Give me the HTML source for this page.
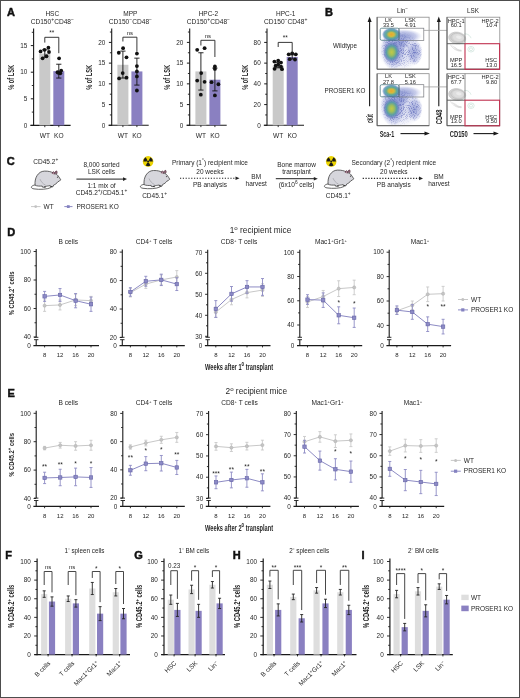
<!DOCTYPE html><html><head><meta charset="utf-8"><style>html,body{margin:0;padding:0;background:#fff;}svg{display:block;filter:blur(0.35px);}</style></head><body>
<svg width="520" height="698" viewBox="0 0 520 698" font-family='"Liberation Sans", sans-serif'>
<defs><filter id="blur1" x="-50%" y="-50%" width="200%" height="200%"><feGaussianBlur stdDeviation="1.6"/></filter><filter id="blur2" x="-50%" y="-50%" width="200%" height="200%"><feGaussianBlur stdDeviation="3"/></filter><filter id="speck" x="0" y="0" width="100%" height="100%" color-interpolation-filters="sRGB"><feTurbulence type="fractalNoise" baseFrequency="1.1" numOctaves="1" seed="7" result="n"/><feColorMatrix in="n" type="matrix" values="0 0 0 0 0.32  0 0 0 0 0.36  0 0 0 0 0.70  0 0 0 7 -3.5" result="d"/><feComposite in="d" in2="SourceGraphic" operator="in"/></filter><radialGradient id="hotU"><stop offset="0" stop-color="#eaa530"/><stop offset="0.28" stop-color="#d6bb3c"/><stop offset="0.55" stop-color="#62aa94"/><stop offset="0.8" stop-color="#4f8fb4" stop-opacity="0.8"/><stop offset="1" stop-color="#6b78c4" stop-opacity="0"/></radialGradient><radialGradient id="hotL"><stop offset="0" stop-color="#c2c84a"/><stop offset="0.3" stop-color="#9ebf5c"/><stop offset="0.6" stop-color="#5a9ea6"/><stop offset="0.85" stop-color="#6a80c0" stop-opacity="0.6"/><stop offset="1" stop-color="#7080c8" stop-opacity="0"/></radialGradient><radialGradient id="cloud"><stop offset="0" stop-color="#7482c8" stop-opacity="0.85"/><stop offset="0.65" stop-color="#8c96d4" stop-opacity="0.55"/><stop offset="1" stop-color="#aab2e2" stop-opacity="0"/></radialGradient></defs>
<rect x="0" y="0" width="520" height="698" fill="#fff"/>
<text transform="translate(6.9,16.45) scale(0.95,1)" x="0" y="0" font-size="11.6" font-weight="bold" fill="#111" stroke="#111" stroke-width="0.5">A</text>
<line x1="33.6" y1="28.6" x2="33.6" y2="125.9" stroke="#1a1a1a" stroke-width="1.1" />
<line x1="30.4" y1="125.4" x2="70.6" y2="125.4" stroke="#1a1a1a" stroke-width="1.1" />
<line x1="30.8" y1="125.4" x2="33.6" y2="125.4" stroke="#1a1a1a" stroke-width="1" />
<text x="27.3" y="127.61" font-size="6.4" text-anchor="end" font-weight="normal" fill="#262626" >0</text>
<line x1="30.8" y1="98.8" x2="33.6" y2="98.8" stroke="#1a1a1a" stroke-width="1" />
<text x="27.3" y="101.01" font-size="6.4" text-anchor="end" font-weight="normal" fill="#262626" >5</text>
<line x1="30.8" y1="72.2" x2="33.6" y2="72.2" stroke="#1a1a1a" stroke-width="1" />
<text x="27.3" y="74.41" font-size="6.4" text-anchor="end" font-weight="normal" fill="#262626" >10</text>
<line x1="30.8" y1="45.6" x2="33.6" y2="45.6" stroke="#1a1a1a" stroke-width="1" />
<text x="27.3" y="47.81" font-size="6.4" text-anchor="end" font-weight="normal" fill="#262626" >15</text>
<line x1="31.8" y1="112.1" x2="33.6" y2="112.1" stroke="#1a1a1a" stroke-width="0.9" />
<line x1="31.8" y1="85.5" x2="33.6" y2="85.5" stroke="#1a1a1a" stroke-width="0.9" />
<line x1="31.8" y1="58.9" x2="33.6" y2="58.9" stroke="#1a1a1a" stroke-width="0.9" />
<line x1="31.8" y1="32.3" x2="33.6" y2="32.3" stroke="#1a1a1a" stroke-width="0.9" />
<rect x="39.3" y="53.58" width="11" height="71.82" fill="#c9c9c9" stroke="none" stroke-width="1" />
<rect x="53.3" y="71.14" width="11" height="54.26" fill="#8a80c1" stroke="none" stroke-width="1" />
<line x1="44.8" y1="125.4" x2="44.8" y2="127.2" stroke="#1a1a1a" stroke-width="0.9" />
<line x1="58.8" y1="125.4" x2="58.8" y2="127.2" stroke="#1a1a1a" stroke-width="0.9" />
<line x1="44.8" y1="49.86" x2="44.8" y2="57.3" stroke="#111" stroke-width="0.9" />
<line x1="42.2" y1="49.86" x2="47.4" y2="49.86" stroke="#111" stroke-width="0.9" />
<line x1="42.2" y1="57.3" x2="47.4" y2="57.3" stroke="#111" stroke-width="0.9" />
<line x1="58.8" y1="64.22" x2="58.8" y2="78.05" stroke="#111" stroke-width="0.9" />
<line x1="56.2" y1="64.22" x2="61.4" y2="64.22" stroke="#111" stroke-width="0.9" />
<line x1="56.2" y1="78.05" x2="61.4" y2="78.05" stroke="#111" stroke-width="0.9" />
<circle cx="40.6" cy="51.45" r="1.9" fill="#111" stroke="none" stroke-width="1"/>
<circle cx="48.4" cy="47.73" r="1.9" fill="#111" stroke="none" stroke-width="1"/>
<circle cx="49" cy="51.98" r="1.9" fill="#111" stroke="none" stroke-width="1"/>
<circle cx="46.5" cy="56.24" r="1.9" fill="#111" stroke="none" stroke-width="1"/>
<circle cx="42.6" cy="58.37" r="1.9" fill="#111" stroke="none" stroke-width="1"/>
<circle cx="44.5" cy="49.86" r="1.9" fill="#111" stroke="none" stroke-width="1"/>
<circle cx="57.5" cy="72.2" r="1.9" fill="#111" stroke="none" stroke-width="1"/>
<circle cx="59.1" cy="58.37" r="1.9" fill="#111" stroke="none" stroke-width="1"/>
<circle cx="60.3" cy="73.26" r="1.9" fill="#111" stroke="none" stroke-width="1"/>
<circle cx="58.3" cy="72.73" r="1.9" fill="#111" stroke="none" stroke-width="1"/>
<circle cx="61.2" cy="70.6" r="1.9" fill="#111" stroke="none" stroke-width="1"/>
<polyline points="44.8,42.6 44.8,37.3 58.8,37.3 58.8,53.2" fill="none" stroke="#222" stroke-width="0.9"/>
<text x="51.8" y="35.24" font-size="6.5" text-anchor="middle" font-weight="normal" fill="#262626" >**</text>
<text x="44.8" y="138.08" font-size="6.6" text-anchor="middle" font-weight="normal" fill="#262626" >WT</text>
<text x="58.8" y="138.08" font-size="6.6" text-anchor="middle" font-weight="normal" fill="#262626" >KO</text>
<text x="52.3" y="16.24" font-size="6.5" text-anchor="middle" font-weight="normal" fill="#262626" >HSC</text>
<text x="52.3" y="24.2" font-size="6.6" text-anchor="middle" fill="#262626">CD150<tspan baseline-shift="2.72" font-size="5.03">+</tspan>CD48<tspan baseline-shift="2.72" font-size="5.03">−</tspan></text>
<text transform="translate(11.2,77.35) rotate(-90)" x="0" y="2.83" font-size="8.2" text-anchor="middle" font-weight="bold" fill="#262626" textLength="25" lengthAdjust="spacingAndGlyphs">% of LSK</text>
<line x1="111.7" y1="28.6" x2="111.7" y2="125.8" stroke="#1a1a1a" stroke-width="1.1" />
<line x1="108.5" y1="125.3" x2="148.7" y2="125.3" stroke="#1a1a1a" stroke-width="1.1" />
<line x1="108.9" y1="125.3" x2="111.7" y2="125.3" stroke="#1a1a1a" stroke-width="1" />
<text x="105.4" y="127.51" font-size="6.4" text-anchor="end" font-weight="normal" fill="#262626" >0</text>
<line x1="108.9" y1="104.58" x2="111.7" y2="104.58" stroke="#1a1a1a" stroke-width="1" />
<text x="105.4" y="106.78" font-size="6.4" text-anchor="end" font-weight="normal" fill="#262626" >5</text>
<line x1="108.9" y1="83.85" x2="111.7" y2="83.85" stroke="#1a1a1a" stroke-width="1" />
<text x="105.4" y="86.06" font-size="6.4" text-anchor="end" font-weight="normal" fill="#262626" >10</text>
<line x1="108.9" y1="63.12" x2="111.7" y2="63.12" stroke="#1a1a1a" stroke-width="1" />
<text x="105.4" y="65.33" font-size="6.4" text-anchor="end" font-weight="normal" fill="#262626" >15</text>
<line x1="108.9" y1="42.4" x2="111.7" y2="42.4" stroke="#1a1a1a" stroke-width="1" />
<text x="105.4" y="44.61" font-size="6.4" text-anchor="end" font-weight="normal" fill="#262626" >20</text>
<line x1="109.9" y1="114.94" x2="111.7" y2="114.94" stroke="#1a1a1a" stroke-width="0.9" />
<line x1="109.9" y1="94.21" x2="111.7" y2="94.21" stroke="#1a1a1a" stroke-width="0.9" />
<line x1="109.9" y1="73.49" x2="111.7" y2="73.49" stroke="#1a1a1a" stroke-width="0.9" />
<line x1="109.9" y1="52.76" x2="111.7" y2="52.76" stroke="#1a1a1a" stroke-width="0.9" />
<line x1="109.9" y1="32.04" x2="111.7" y2="32.04" stroke="#1a1a1a" stroke-width="0.9" />
<rect x="117.4" y="64.78" width="11" height="60.52" fill="#c9c9c9" stroke="none" stroke-width="1" />
<rect x="131.4" y="71.42" width="11" height="53.88" fill="#8a80c1" stroke="none" stroke-width="1" />
<line x1="122.9" y1="125.3" x2="122.9" y2="127.1" stroke="#1a1a1a" stroke-width="0.9" />
<line x1="136.9" y1="125.3" x2="136.9" y2="127.1" stroke="#1a1a1a" stroke-width="0.9" />
<line x1="122.9" y1="51.1" x2="122.9" y2="78.05" stroke="#111" stroke-width="0.9" />
<line x1="120.3" y1="51.1" x2="125.5" y2="51.1" stroke="#111" stroke-width="0.9" />
<line x1="120.3" y1="78.05" x2="125.5" y2="78.05" stroke="#111" stroke-width="0.9" />
<line x1="136.9" y1="58.15" x2="136.9" y2="85.09" stroke="#111" stroke-width="0.9" />
<line x1="134.3" y1="58.15" x2="139.5" y2="58.15" stroke="#111" stroke-width="0.9" />
<line x1="134.3" y1="85.09" x2="139.5" y2="85.09" stroke="#111" stroke-width="0.9" />
<circle cx="118.8" cy="52.76" r="1.9" fill="#111" stroke="none" stroke-width="1"/>
<circle cx="123.1" cy="48.2" r="1.9" fill="#111" stroke="none" stroke-width="1"/>
<circle cx="126.5" cy="57.32" r="1.9" fill="#111" stroke="none" stroke-width="1"/>
<circle cx="122.7" cy="73.07" r="1.9" fill="#111" stroke="none" stroke-width="1"/>
<circle cx="119.1" cy="78.46" r="1.9" fill="#111" stroke="none" stroke-width="1"/>
<circle cx="126.5" cy="77.63" r="1.9" fill="#111" stroke="none" stroke-width="1"/>
<circle cx="136.9" cy="53.59" r="1.9" fill="#111" stroke="none" stroke-width="1"/>
<circle cx="136.9" cy="66.03" r="1.9" fill="#111" stroke="none" stroke-width="1"/>
<circle cx="136.9" cy="71.42" r="1.9" fill="#111" stroke="none" stroke-width="1"/>
<circle cx="136.9" cy="76.39" r="1.9" fill="#111" stroke="none" stroke-width="1"/>
<circle cx="136.9" cy="90.48" r="1.9" fill="#111" stroke="none" stroke-width="1"/>
<polyline points="122.9,41.5 122.9,37.2 136.9,37.2 136.9,51.8" fill="none" stroke="#222" stroke-width="0.9"/>
<text x="129.9" y="34.77" font-size="6" text-anchor="middle" font-weight="normal" fill="#262626" >ns</text>
<text x="122.9" y="138.08" font-size="6.6" text-anchor="middle" font-weight="normal" fill="#262626" >WT</text>
<text x="136.9" y="138.08" font-size="6.6" text-anchor="middle" font-weight="normal" fill="#262626" >KO</text>
<text x="130.4" y="16.24" font-size="6.5" text-anchor="middle" font-weight="normal" fill="#262626" >MPP</text>
<text x="130.4" y="24.2" font-size="6.6" text-anchor="middle" fill="#262626">CD150<tspan baseline-shift="2.72" font-size="5.03">−</tspan>CD48<tspan baseline-shift="2.72" font-size="5.03">−</tspan></text>
<text transform="translate(89.5,77.35) rotate(-90)" x="0" y="2.83" font-size="8.2" text-anchor="middle" font-weight="bold" fill="#262626" textLength="25" lengthAdjust="spacingAndGlyphs">% of LSK</text>
<line x1="189.7" y1="28.6" x2="189.7" y2="125.8" stroke="#1a1a1a" stroke-width="1.1" />
<line x1="186.5" y1="125.3" x2="226.7" y2="125.3" stroke="#1a1a1a" stroke-width="1.1" />
<line x1="186.9" y1="125.3" x2="189.7" y2="125.3" stroke="#1a1a1a" stroke-width="1" />
<text x="183.4" y="127.51" font-size="6.4" text-anchor="end" font-weight="normal" fill="#262626" >0</text>
<line x1="186.9" y1="104.58" x2="189.7" y2="104.58" stroke="#1a1a1a" stroke-width="1" />
<text x="183.4" y="106.78" font-size="6.4" text-anchor="end" font-weight="normal" fill="#262626" >5</text>
<line x1="186.9" y1="83.85" x2="189.7" y2="83.85" stroke="#1a1a1a" stroke-width="1" />
<text x="183.4" y="86.06" font-size="6.4" text-anchor="end" font-weight="normal" fill="#262626" >10</text>
<line x1="186.9" y1="63.12" x2="189.7" y2="63.12" stroke="#1a1a1a" stroke-width="1" />
<text x="183.4" y="65.33" font-size="6.4" text-anchor="end" font-weight="normal" fill="#262626" >15</text>
<line x1="186.9" y1="42.4" x2="189.7" y2="42.4" stroke="#1a1a1a" stroke-width="1" />
<text x="183.4" y="44.61" font-size="6.4" text-anchor="end" font-weight="normal" fill="#262626" >20</text>
<line x1="187.9" y1="114.94" x2="189.7" y2="114.94" stroke="#1a1a1a" stroke-width="0.9" />
<line x1="187.9" y1="94.21" x2="189.7" y2="94.21" stroke="#1a1a1a" stroke-width="0.9" />
<line x1="187.9" y1="73.49" x2="189.7" y2="73.49" stroke="#1a1a1a" stroke-width="0.9" />
<line x1="187.9" y1="52.76" x2="189.7" y2="52.76" stroke="#1a1a1a" stroke-width="0.9" />
<line x1="187.9" y1="32.04" x2="189.7" y2="32.04" stroke="#1a1a1a" stroke-width="0.9" />
<rect x="195.4" y="71.42" width="11" height="53.88" fill="#c9c9c9" stroke="none" stroke-width="1" />
<rect x="209.4" y="79.7" width="11" height="45.59" fill="#8a80c1" stroke="none" stroke-width="1" />
<line x1="200.9" y1="125.3" x2="200.9" y2="127.1" stroke="#1a1a1a" stroke-width="0.9" />
<line x1="214.9" y1="125.3" x2="214.9" y2="127.1" stroke="#1a1a1a" stroke-width="0.9" />
<line x1="200.9" y1="52.76" x2="200.9" y2="90.07" stroke="#111" stroke-width="0.9" />
<line x1="198.3" y1="52.76" x2="203.5" y2="52.76" stroke="#111" stroke-width="0.9" />
<line x1="198.3" y1="90.07" x2="203.5" y2="90.07" stroke="#111" stroke-width="0.9" />
<line x1="214.9" y1="68.1" x2="214.9" y2="90.9" stroke="#111" stroke-width="0.9" />
<line x1="212.3" y1="68.1" x2="217.5" y2="68.1" stroke="#111" stroke-width="0.9" />
<line x1="212.3" y1="90.9" x2="217.5" y2="90.9" stroke="#111" stroke-width="0.9" />
<circle cx="197.2" cy="49.86" r="1.9" fill="#111" stroke="none" stroke-width="1"/>
<circle cx="204.6" cy="48.2" r="1.9" fill="#111" stroke="none" stroke-width="1"/>
<circle cx="201.2" cy="73.07" r="1.9" fill="#111" stroke="none" stroke-width="1"/>
<circle cx="197.2" cy="80.53" r="1.9" fill="#111" stroke="none" stroke-width="1"/>
<circle cx="204.6" cy="81.78" r="1.9" fill="#111" stroke="none" stroke-width="1"/>
<circle cx="200.8" cy="94.63" r="1.9" fill="#111" stroke="none" stroke-width="1"/>
<circle cx="214.9" cy="66.44" r="1.9" fill="#111" stroke="none" stroke-width="1"/>
<circle cx="214.9" cy="68.93" r="1.9" fill="#111" stroke="none" stroke-width="1"/>
<circle cx="211.5" cy="82.19" r="1.9" fill="#111" stroke="none" stroke-width="1"/>
<circle cx="218.4" cy="84.26" r="1.9" fill="#111" stroke="none" stroke-width="1"/>
<circle cx="214.9" cy="95.46" r="1.9" fill="#111" stroke="none" stroke-width="1"/>
<polyline points="200.9,45.5 200.9,40.3 214.9,40.3 214.9,57" fill="none" stroke="#222" stroke-width="0.9"/>
<text x="207.9" y="37.87" font-size="6" text-anchor="middle" font-weight="normal" fill="#262626" >ns</text>
<text x="200.9" y="138.08" font-size="6.6" text-anchor="middle" font-weight="normal" fill="#262626" >WT</text>
<text x="214.9" y="138.08" font-size="6.6" text-anchor="middle" font-weight="normal" fill="#262626" >KO</text>
<text x="208.4" y="16.24" font-size="6.5" text-anchor="middle" font-weight="normal" fill="#262626" >HPC-2</text>
<text x="208.4" y="24.2" font-size="6.6" text-anchor="middle" fill="#262626">CD150<tspan baseline-shift="2.72" font-size="5.03">+</tspan>CD48<tspan baseline-shift="2.72" font-size="5.03">−</tspan></text>
<text transform="translate(167.5,77.35) rotate(-90)" x="0" y="2.83" font-size="8.2" text-anchor="middle" font-weight="bold" fill="#262626" textLength="25" lengthAdjust="spacingAndGlyphs">% of LSK</text>
<line x1="267" y1="28.6" x2="267" y2="125.8" stroke="#1a1a1a" stroke-width="1.1" />
<line x1="263.8" y1="125.3" x2="304" y2="125.3" stroke="#1a1a1a" stroke-width="1.1" />
<line x1="264.2" y1="125.3" x2="267" y2="125.3" stroke="#1a1a1a" stroke-width="1" />
<text x="260.7" y="127.51" font-size="6.4" text-anchor="end" font-weight="normal" fill="#262626" >0</text>
<line x1="264.2" y1="104.58" x2="267" y2="104.58" stroke="#1a1a1a" stroke-width="1" />
<text x="260.7" y="106.79" font-size="6.4" text-anchor="end" font-weight="normal" fill="#262626" >20</text>
<line x1="264.2" y1="83.86" x2="267" y2="83.86" stroke="#1a1a1a" stroke-width="1" />
<text x="260.7" y="86.07" font-size="6.4" text-anchor="end" font-weight="normal" fill="#262626" >40</text>
<line x1="264.2" y1="63.14" x2="267" y2="63.14" stroke="#1a1a1a" stroke-width="1" />
<text x="260.7" y="65.35" font-size="6.4" text-anchor="end" font-weight="normal" fill="#262626" >60</text>
<line x1="264.2" y1="42.42" x2="267" y2="42.42" stroke="#1a1a1a" stroke-width="1" />
<text x="260.7" y="44.63" font-size="6.4" text-anchor="end" font-weight="normal" fill="#262626" >80</text>
<line x1="265.2" y1="114.94" x2="267" y2="114.94" stroke="#1a1a1a" stroke-width="0.9" />
<line x1="265.2" y1="94.22" x2="267" y2="94.22" stroke="#1a1a1a" stroke-width="0.9" />
<line x1="265.2" y1="73.5" x2="267" y2="73.5" stroke="#1a1a1a" stroke-width="0.9" />
<line x1="265.2" y1="52.78" x2="267" y2="52.78" stroke="#1a1a1a" stroke-width="0.9" />
<line x1="265.2" y1="32.06" x2="267" y2="32.06" stroke="#1a1a1a" stroke-width="0.9" />
<rect x="272.7" y="65.73" width="11" height="59.57" fill="#c9c9c9" stroke="none" stroke-width="1" />
<rect x="286.7" y="56.92" width="11" height="68.38" fill="#8a80c1" stroke="none" stroke-width="1" />
<line x1="278.2" y1="125.3" x2="278.2" y2="127.1" stroke="#1a1a1a" stroke-width="0.9" />
<line x1="292.2" y1="125.3" x2="292.2" y2="127.1" stroke="#1a1a1a" stroke-width="0.9" />
<line x1="278.2" y1="62.62" x2="278.2" y2="67.8" stroke="#111" stroke-width="0.9" />
<line x1="275.6" y1="62.62" x2="280.8" y2="62.62" stroke="#111" stroke-width="0.9" />
<line x1="275.6" y1="67.8" x2="280.8" y2="67.8" stroke="#111" stroke-width="0.9" />
<line x1="292.2" y1="54.85" x2="292.2" y2="59" stroke="#111" stroke-width="0.9" />
<line x1="289.6" y1="54.85" x2="294.8" y2="54.85" stroke="#111" stroke-width="0.9" />
<line x1="289.6" y1="59" x2="294.8" y2="59" stroke="#111" stroke-width="0.9" />
<circle cx="274.4" cy="61.59" r="1.9" fill="#111" stroke="none" stroke-width="1"/>
<circle cx="278.2" cy="60.55" r="1.9" fill="#111" stroke="none" stroke-width="1"/>
<circle cx="281" cy="62.62" r="1.9" fill="#111" stroke="none" stroke-width="1"/>
<circle cx="275.7" cy="65.73" r="1.9" fill="#111" stroke="none" stroke-width="1"/>
<circle cx="281" cy="66.77" r="1.9" fill="#111" stroke="none" stroke-width="1"/>
<circle cx="274.6" cy="68.84" r="1.9" fill="#111" stroke="none" stroke-width="1"/>
<circle cx="282" cy="69.15" r="1.9" fill="#111" stroke="none" stroke-width="1"/>
<circle cx="278.2" cy="64.69" r="1.9" fill="#111" stroke="none" stroke-width="1"/>
<circle cx="288.7" cy="54.33" r="1.9" fill="#111" stroke="none" stroke-width="1"/>
<circle cx="292.2" cy="53.3" r="1.9" fill="#111" stroke="none" stroke-width="1"/>
<circle cx="295.8" cy="54.33" r="1.9" fill="#111" stroke="none" stroke-width="1"/>
<circle cx="289.7" cy="59.2" r="1.9" fill="#111" stroke="none" stroke-width="1"/>
<circle cx="295" cy="59.51" r="1.9" fill="#111" stroke="none" stroke-width="1"/>
<polyline points="278.2,47 278.2,42.4 292.2,42.4 292.2,53.5" fill="none" stroke="#222" stroke-width="0.9"/>
<text x="285.2" y="40.34" font-size="6.5" text-anchor="middle" font-weight="normal" fill="#262626" >**</text>
<text x="278.2" y="138.08" font-size="6.6" text-anchor="middle" font-weight="normal" fill="#262626" >WT</text>
<text x="292.2" y="138.08" font-size="6.6" text-anchor="middle" font-weight="normal" fill="#262626" >KO</text>
<text x="285.7" y="16.24" font-size="6.5" text-anchor="middle" font-weight="normal" fill="#262626" >HPC-1</text>
<text x="285.7" y="24.2" font-size="6.6" text-anchor="middle" fill="#262626">CD150<tspan baseline-shift="2.72" font-size="5.03">−</tspan>CD48<tspan baseline-shift="2.72" font-size="5.03">+</tspan></text>
<text transform="translate(245.2,77.35) rotate(-90)" x="0" y="2.83" font-size="8.2" text-anchor="middle" font-weight="bold" fill="#262626" textLength="25" lengthAdjust="spacingAndGlyphs">% of LSK</text>
<text transform="translate(324.9,16.35) scale(0.95,1)" x="0" y="0" font-size="11.6" font-weight="bold" fill="#111" stroke="#111" stroke-width="0.5">B</text>
<text x="402.5" y="12.67" font-size="6.3" text-anchor="middle" font-weight="normal" fill="#262626" >Lin<tspan baseline-shift="2.52" font-size="4.66">−</tspan></text>
<text x="473" y="12.67" font-size="6.3" text-anchor="middle" font-weight="normal" fill="#262626" >LSK</text>
<text x="345" y="47.77" font-size="6.3" text-anchor="middle" font-weight="normal" fill="#262626" >Wildtype</text>
<text x="345" y="93.47" font-size="6.3" text-anchor="middle" font-weight="normal" fill="#262626" >PROSER1 KO</text>
<line x1="369.6" y1="21" x2="369.6" y2="106.3" stroke="#1a1a1a" stroke-width="1.1" />
<path d="M367.6,22 L369.6,16.6 L371.6,22 Z" fill="#1a1a1a"/>
<text transform="translate(369.7,118.6) rotate(-90)" x="0" y="2.97" font-size="8.6" text-anchor="middle" font-weight="bold" fill="#262626" textLength="8.8" lengthAdjust="spacingAndGlyphs">cKit</text>
<line x1="438.8" y1="21" x2="438.8" y2="106.3" stroke="#1a1a1a" stroke-width="1.1" />
<path d="M436.8,22 L438.8,16.6 L440.8,22 Z" fill="#1a1a1a"/>
<text transform="translate(438.9,116.9) rotate(-90)" x="0" y="2.97" font-size="8.6" text-anchor="middle" font-weight="bold" fill="#262626" textLength="14.6" lengthAdjust="spacingAndGlyphs">CD48</text>
<text x="379.7" y="137.2" font-size="9" font-weight="bold" fill="#262626" textLength="14.5" lengthAdjust="spacingAndGlyphs">Sca-1</text>
<line x1="400.5" y1="133.6" x2="425.5" y2="133.6" stroke="#1a1a1a" stroke-width="1.1" />
<path d="M424.5,131.6 L429.9,133.6 L424.5,135.6 Z" fill="#1a1a1a"/>
<text x="449.8" y="137.2" font-size="9" font-weight="bold" fill="#262626" textLength="18" lengthAdjust="spacingAndGlyphs">CD150</text>
<line x1="473.5" y1="133.6" x2="494.5" y2="133.6" stroke="#1a1a1a" stroke-width="1.1" />
<path d="M493.5,131.6 L498.9,133.6 L493.5,135.6 Z" fill="#1a1a1a"/>
<defs><clipPath id="clip0"><rect x="0" y="0" width="52" height="52"/></clipPath></defs>
<g transform="translate(377.1,17.2)"><g clip-path="url(#clip0)">
<ellipse cx="23" cy="33" rx="23" ry="21" fill="url(#cloud)" opacity="0.42"/>
<ellipse cx="16" cy="32" rx="12.5" ry="21" fill="url(#cloud)" opacity="0.95"/>
<ellipse cx="27" cy="19" rx="18" ry="7" fill="url(#cloud)" opacity="0.85"/>
<ellipse cx="24" cy="26" rx="9" ry="6" fill="url(#cloud)" opacity="0.7"/>
<ellipse cx="37.5" cy="35.5" rx="8" ry="12.5" fill="url(#cloud)" opacity="0.75"/>
<g filter="url(#speck)" opacity="0.6">
<ellipse cx="23" cy="33" rx="20" ry="19" fill="url(#cloud)"/>
<ellipse cx="16" cy="32" rx="12" ry="20" fill="url(#cloud)"/>
<ellipse cx="37.5" cy="35.5" rx="8" ry="12.5" fill="url(#cloud)"/>
</g>
<ellipse cx="14.5" cy="35" rx="8.5" ry="10.5" fill="url(#hotL)"/>
<ellipse cx="14.3" cy="17.3" rx="9.5" ry="6.8" fill="url(#hotU)"/>
</g></g>
<rect x="377.1" y="17.2" width="52" height="52" fill="none" stroke="#8a8a8a" stroke-width="0.8" />
<line x1="377.1" y1="69.2" x2="429.1" y2="69.2" stroke="#555" stroke-width="0.9" />
<line x1="377.1" y1="17.2" x2="377.1" y2="69.2" stroke="#555" stroke-width="0.9" />
<rect x="399" y="28.2" width="24.8" height="12.3" fill="none" stroke="#77797f" stroke-width="0.7" />
<rect x="380.2" y="28.2" width="18.8" height="12.1" fill="none" stroke="#3f6f78" stroke-width="0.75" rx="1.5"/>
<text x="388.5" y="21.77" font-size="5.7" text-anchor="middle" font-weight="normal" fill="#262626" >LK</text>
<text x="388.5" y="27.07" font-size="5.7" text-anchor="middle" font-weight="normal" fill="#262626" >33.5</text>
<text x="410.4" y="21.77" font-size="5.7" text-anchor="middle" font-weight="normal" fill="#262626" >LSK</text>
<text x="410.4" y="27.07" font-size="5.7" text-anchor="middle" font-weight="normal" fill="#262626" >4.91</text>
<line x1="423.8" y1="30.4" x2="447" y2="30.4" stroke="#a0a0a0" stroke-width="0.8" />
<g transform="rotate(8 457.2 38)">
<ellipse cx="457.2" cy="38" rx="8.6" ry="5.9" fill="#d4d4d4"/>
<ellipse cx="458.2" cy="37.4" rx="5.5" ry="3.4" fill="#dedede"/>
<ellipse cx="458.7" cy="37" rx="2.8" ry="1.6" fill="#ebebeb"/>
<g fill="none" stroke="#b4b4b4" stroke-width="0.45">
<ellipse cx="457.2" cy="38" rx="8.6" ry="5.9"/>
<ellipse cx="457.7" cy="37.7" rx="7" ry="4.6"/>
</g></g>
<g fill="none" stroke="#c2c2c2" stroke-width="0.5">
<path d="M450.5,44.7 c2,4 6,6.5 11,6.5" />
<path d="M452.5,45.7 c2,3 5,5 9,5" />
<path d="M454.5,46.7 c2,2.5 4,3.5 7,3.5" />
</g>
<g fill="none" stroke="#b8d6ca" stroke-width="0.5">
<path d="M464,34.2 c3,-1 6,1 7,4" />
<ellipse cx="471" cy="49.2" rx="3.2" ry="2.8"/>
<ellipse cx="471" cy="49.2" rx="1.6" ry="1.4"/>
</g>
<rect x="447" y="17.2" width="52.8" height="52" fill="none" stroke="#8a8a8a" stroke-width="0.8" />
<line x1="447" y1="69.2" x2="499.8" y2="69.2" stroke="#555" stroke-width="0.9" />
<line x1="447" y1="17.2" x2="447" y2="69.2" stroke="#555" stroke-width="0.9" />
<line x1="465" y1="17.2" x2="465" y2="43.7" stroke="#777" stroke-width="0.8" />
<line x1="447" y1="43.7" x2="465" y2="43.7" stroke="#555" stroke-width="0.9" />
<rect x="465" y="43.7" width="34.6" height="25.6" fill="none" stroke="#c0304f" stroke-width="1.1" />
<text x="456.2" y="22.57" font-size="5.7" text-anchor="middle" font-weight="normal" fill="#262626" >HPC-1</text>
<text x="456.2" y="27.47" font-size="5.7" text-anchor="middle" font-weight="normal" fill="#262626" >60.1</text>
<text x="498.6" y="22.57" font-size="5.7" text-anchor="end" font-weight="normal" fill="#262626" >HPC-2</text>
<text x="497.2" y="27.47" font-size="5.7" text-anchor="end" font-weight="normal" fill="#262626" >10.4</text>
<text x="456.2" y="62.07" font-size="5.7" text-anchor="middle" font-weight="normal" fill="#262626" >MPP</text>
<text x="456.2" y="66.97" font-size="5.7" text-anchor="middle" font-weight="normal" fill="#262626" >16.5</text>
<text x="497.2" y="62.07" font-size="5.7" text-anchor="end" font-weight="normal" fill="#262626" >HSC</text>
<text x="497.2" y="66.97" font-size="5.7" text-anchor="end" font-weight="normal" fill="#262626" >13.0</text>
<defs><clipPath id="clip1"><rect x="0" y="0" width="52" height="52"/></clipPath></defs>
<g transform="translate(377.1,73.7)"><g clip-path="url(#clip1)">
<ellipse cx="23" cy="33" rx="23" ry="21" fill="url(#cloud)" opacity="0.42"/>
<ellipse cx="16" cy="32" rx="12.5" ry="21" fill="url(#cloud)" opacity="0.95"/>
<ellipse cx="27" cy="19" rx="18" ry="7" fill="url(#cloud)" opacity="0.85"/>
<ellipse cx="24" cy="26" rx="9" ry="6" fill="url(#cloud)" opacity="0.7"/>
<ellipse cx="37.5" cy="35.5" rx="8" ry="12.5" fill="url(#cloud)" opacity="0.75"/>
<g filter="url(#speck)" opacity="0.6">
<ellipse cx="23" cy="33" rx="20" ry="19" fill="url(#cloud)"/>
<ellipse cx="16" cy="32" rx="12" ry="20" fill="url(#cloud)"/>
<ellipse cx="37.5" cy="35.5" rx="8" ry="12.5" fill="url(#cloud)"/>
</g>
<ellipse cx="14.5" cy="35" rx="8.5" ry="10.5" fill="url(#hotL)"/>
<ellipse cx="14.3" cy="17.3" rx="9.5" ry="6.8" fill="url(#hotU)"/>
</g></g>
<rect x="377.1" y="73.7" width="52" height="52" fill="none" stroke="#8a8a8a" stroke-width="0.8" />
<line x1="377.1" y1="125.7" x2="429.1" y2="125.7" stroke="#555" stroke-width="0.9" />
<line x1="377.1" y1="73.7" x2="377.1" y2="125.7" stroke="#555" stroke-width="0.9" />
<rect x="399" y="84.7" width="24.8" height="12.3" fill="none" stroke="#77797f" stroke-width="0.7" />
<rect x="380.2" y="84.7" width="18.8" height="12.1" fill="none" stroke="#3f6f78" stroke-width="0.75" rx="1.5"/>
<text x="388.5" y="78.27" font-size="5.7" text-anchor="middle" font-weight="normal" fill="#262626" >LK</text>
<text x="388.5" y="83.57" font-size="5.7" text-anchor="middle" font-weight="normal" fill="#262626" >27.8</text>
<text x="410.4" y="78.27" font-size="5.7" text-anchor="middle" font-weight="normal" fill="#262626" >LSK</text>
<text x="410.4" y="83.57" font-size="5.7" text-anchor="middle" font-weight="normal" fill="#262626" >5.16</text>
<line x1="423.8" y1="86.9" x2="447" y2="86.9" stroke="#a0a0a0" stroke-width="0.8" />
<g transform="rotate(8 457.2 94.5)">
<ellipse cx="457.2" cy="94.5" rx="8.6" ry="5.9" fill="#d4d4d4"/>
<ellipse cx="458.2" cy="93.9" rx="5.5" ry="3.4" fill="#dedede"/>
<ellipse cx="458.7" cy="93.5" rx="2.8" ry="1.6" fill="#ebebeb"/>
<g fill="none" stroke="#b4b4b4" stroke-width="0.45">
<ellipse cx="457.2" cy="94.5" rx="8.6" ry="5.9"/>
<ellipse cx="457.7" cy="94.2" rx="7" ry="4.6"/>
</g></g>
<g fill="none" stroke="#c2c2c2" stroke-width="0.5">
<path d="M450.5,101.2 c2,4 6,6.5 11,6.5" />
<path d="M452.5,102.2 c2,3 5,5 9,5" />
<path d="M454.5,103.2 c2,2.5 4,3.5 7,3.5" />
</g>
<g fill="none" stroke="#b8d6ca" stroke-width="0.5">
<path d="M464,90.7 c3,-1 6,1 7,4" />
<ellipse cx="471" cy="105.7" rx="3.2" ry="2.8"/>
<ellipse cx="471" cy="105.7" rx="1.6" ry="1.4"/>
</g>
<rect x="447" y="73.7" width="52.8" height="52" fill="none" stroke="#8a8a8a" stroke-width="0.8" />
<line x1="447" y1="125.7" x2="499.8" y2="125.7" stroke="#555" stroke-width="0.9" />
<line x1="447" y1="73.7" x2="447" y2="125.7" stroke="#555" stroke-width="0.9" />
<line x1="465" y1="73.7" x2="465" y2="100.2" stroke="#777" stroke-width="0.8" />
<line x1="447" y1="100.2" x2="465" y2="100.2" stroke="#555" stroke-width="0.9" />
<rect x="465" y="100.2" width="34.6" height="25.6" fill="none" stroke="#c0304f" stroke-width="1.1" />
<text x="456.2" y="79.07" font-size="5.7" text-anchor="middle" font-weight="normal" fill="#262626" >HPC-1</text>
<text x="456.2" y="83.97" font-size="5.7" text-anchor="middle" font-weight="normal" fill="#262626" >67.7</text>
<text x="498.6" y="79.07" font-size="5.7" text-anchor="end" font-weight="normal" fill="#262626" >HPC-2</text>
<text x="497.2" y="83.97" font-size="5.7" text-anchor="end" font-weight="normal" fill="#262626" >9.80</text>
<text x="456.2" y="118.57" font-size="5.7" text-anchor="middle" font-weight="normal" fill="#262626" >MPP</text>
<text x="456.2" y="123.47" font-size="5.7" text-anchor="middle" font-weight="normal" fill="#262626" >13.0</text>
<text x="497.2" y="118.57" font-size="5.7" text-anchor="end" font-weight="normal" fill="#262626" >HSC</text>
<text x="497.2" y="123.47" font-size="5.7" text-anchor="end" font-weight="normal" fill="#262626" >9.50</text>
<text transform="translate(6.8,164.55) scale(0.95,1)" x="0" y="0" font-size="11.6" font-weight="bold" fill="#111" stroke="#111" stroke-width="0.5">C</text>
<text x="45.8" y="164.04" font-size="6.5" text-anchor="middle" font-weight="normal" fill="#262626" >CD45.2<tspan baseline-shift="2.6" font-size="4.81">+</tspan></text>
<g transform="translate(30.5,169.6) scale(1)">
<path d="M5.2,15.2 C0.5,15.8 -0.8,18.6 3.5,19.3 C9,20.1 17,19.9 20.8,17.8" fill="#fff" stroke="#4a4a4a" stroke-width="0.85"/>
<path d="M24.4,3.6 C24.6,1.8 25.6,1.0 26.4,1.6 C26.8,2.4 26.6,3.6 26,4.6" fill="#9a7080" stroke="#4a2a3a" stroke-width="0.7"/>
<path d="M4.6,15.6 C3.8,8.5 7.5,1.7 14,1.5 C18,1.4 20.8,2.2 23,3.4 C25,4.2 26.8,5 27.6,6.2 C28.6,7.6 29.6,9 30.2,10.2 C29.5,11.3 28.5,11.8 27.3,12.2 C26.3,13.8 24.8,14.8 23.2,15.4 L22.4,17.2 L20.2,17 L19.8,16 C17.5,16.4 16,16.6 14.8,16.8 L14,17.7 L11.9,17.5 L11.7,16.4 C9,16.6 6.5,16.6 4.6,15.6 Z" fill="#d6d6dc" stroke="#4a4a4a" stroke-width="0.85" stroke-linejoin="round"/>
<path d="M21.8,4.2 C21.6,2.8 22.4,2.0 23.4,2.2 C24.2,2.6 24.3,3.8 23.8,4.8" fill="#b08898" stroke="#4a2a3a" stroke-width="0.7"/>
<circle cx="27.0" cy="7.6" r="0.6" fill="#444"/>
<path d="M9.5,9.5 C10.5,12 12.5,14.5 15,15.5" fill="none" stroke="#8a8a90" stroke-width="0.5"/>
<path d="M13.6,17.2 l1.6,0.4 M20,16.9 l1.8,0.3" stroke="#333" stroke-width="1.1"/>
</g>
<text x="101.5" y="166.94" font-size="6.5" text-anchor="middle" font-weight="normal" fill="#262626" >8,000 sorted</text>
<text x="101.5" y="174.34" font-size="6.5" text-anchor="middle" font-weight="normal" fill="#262626" >LSK cells</text>
<line x1="76.4" y1="179.1" x2="124" y2="179.1" stroke="#222" stroke-width="1" />
<path d="M123,177.3 L127,179.1 L123,180.9 Z" fill="#222"/>
<text x="101.5" y="188.24" font-size="6.5" text-anchor="middle" font-weight="normal" fill="#262626" >1:1 mix of</text>
<text x="101.5" y="195.14" font-size="6.5" text-anchor="middle" font-weight="normal" fill="#262626" >CD45.2<tspan baseline-shift="2.6" font-size="4.81">+</tspan>/CD45.1<tspan baseline-shift="2.6" font-size="4.81">+</tspan></text>
<circle cx="148.1" cy="161.4" r="5.3" fill="#ecd400"/>
<path d="M146.72,161.4 L143.33,161.4 A4.77,4.77 0 0 1 145.72,157.27 L147.41,160.21 A1.38,1.38 0 0 0 146.72,161.4 Z" fill="#1a1a1a"/>
<path d="M148.79,160.21 L150.48,157.27 A4.77,4.77 0 0 1 152.87,161.4 L149.48,161.4 A1.38,1.38 0 0 0 148.79,160.21 Z" fill="#1a1a1a"/>
<path d="M148.79,162.59 L150.48,165.53 A4.77,4.77 0 0 1 145.72,165.53 L147.41,162.59 A1.38,1.38 0 0 0 148.79,162.59 Z" fill="#1a1a1a"/>
<circle cx="148.1" cy="161.4" r="1.01" fill="#1a1a1a"/>
<g transform="translate(139.5,169) scale(1)">
<path d="M5.2,15.2 C0.5,15.8 -0.8,18.6 3.5,19.3 C9,20.1 17,19.9 20.8,17.8" fill="#fff" stroke="#4a4a4a" stroke-width="0.85"/>
<path d="M24.4,3.6 C24.6,1.8 25.6,1.0 26.4,1.6 C26.8,2.4 26.6,3.6 26,4.6" fill="#9a7080" stroke="#4a2a3a" stroke-width="0.7"/>
<path d="M4.6,15.6 C3.8,8.5 7.5,1.7 14,1.5 C18,1.4 20.8,2.2 23,3.4 C25,4.2 26.8,5 27.6,6.2 C28.6,7.6 29.6,9 30.2,10.2 C29.5,11.3 28.5,11.8 27.3,12.2 C26.3,13.8 24.8,14.8 23.2,15.4 L22.4,17.2 L20.2,17 L19.8,16 C17.5,16.4 16,16.6 14.8,16.8 L14,17.7 L11.9,17.5 L11.7,16.4 C9,16.6 6.5,16.6 4.6,15.6 Z" fill="#d6d6dc" stroke="#4a4a4a" stroke-width="0.85" stroke-linejoin="round"/>
<path d="M21.8,4.2 C21.6,2.8 22.4,2.0 23.4,2.2 C24.2,2.6 24.3,3.8 23.8,4.8" fill="#b08898" stroke="#4a2a3a" stroke-width="0.7"/>
<circle cx="27.0" cy="7.6" r="0.6" fill="#444"/>
<path d="M9.5,9.5 C10.5,12 12.5,14.5 15,15.5" fill="none" stroke="#8a8a90" stroke-width="0.5"/>
<path d="M13.6,17.2 l1.6,0.4 M20,16.9 l1.8,0.3" stroke="#333" stroke-width="1.1"/>
</g>
<text x="154.6" y="197.84" font-size="6.5" text-anchor="middle" font-weight="normal" fill="#262626" >CD45.1<tspan baseline-shift="2.6" font-size="4.81">+</tspan></text>
<text x="210" y="164.54" font-size="6.5" text-anchor="middle" font-weight="normal" fill="#262626" >Primary (1<tspan baseline-shift="2.6" font-size="4.81">°</tspan>) recipient mice</text>
<text x="210" y="174.44" font-size="6.5" text-anchor="middle" font-weight="normal" fill="#262626" >20 weeks</text>
<line x1="180" y1="178.2" x2="236.5" y2="178.2" stroke="#222" stroke-width="1.1" stroke-dasharray="1.2,1.6"/>
<path d="M235.5,176.4 L239.5,178.2 L235.5,180 Z" fill="#222"/>
<text x="210" y="187.24" font-size="6.5" text-anchor="middle" font-weight="normal" fill="#262626" >PB analysis</text>
<text x="256.2" y="178.64" font-size="6.5" text-anchor="middle" font-weight="normal" fill="#262626" >BM</text>
<text x="256.2" y="186.04" font-size="6.5" text-anchor="middle" font-weight="normal" fill="#262626" >harvest</text>
<text x="296.6" y="166.84" font-size="6.5" text-anchor="middle" font-weight="normal" fill="#262626" >Bone marrow</text>
<text x="296.6" y="173.74" font-size="6.5" text-anchor="middle" font-weight="normal" fill="#262626" >transplant</text>
<line x1="275.8" y1="178.7" x2="314.8" y2="178.7" stroke="#222" stroke-width="1" />
<path d="M313.8,176.9 L317.8,178.7 L313.8,180.5 Z" fill="#222"/>
<text x="296.6" y="187.24" font-size="6.5" text-anchor="middle" font-weight="normal" fill="#262626" >(6x10<tspan baseline-shift="2.6" font-size="4.81">6</tspan> cells)</text>
<circle cx="331.2" cy="161.4" r="5.3" fill="#ecd400"/>
<path d="M329.82,161.4 L326.43,161.4 A4.77,4.77 0 0 1 328.81,157.27 L330.51,160.21 A1.38,1.38 0 0 0 329.82,161.4 Z" fill="#1a1a1a"/>
<path d="M331.89,160.21 L333.58,157.27 A4.77,4.77 0 0 1 335.97,161.4 L332.58,161.4 A1.38,1.38 0 0 0 331.89,160.21 Z" fill="#1a1a1a"/>
<path d="M331.89,162.59 L333.58,165.53 A4.77,4.77 0 0 1 328.81,165.53 L330.51,162.59 A1.38,1.38 0 0 0 331.89,162.59 Z" fill="#1a1a1a"/>
<circle cx="331.2" cy="161.4" r="1.01" fill="#1a1a1a"/>
<g transform="translate(323.5,168.6) scale(1)">
<path d="M5.2,15.2 C0.5,15.8 -0.8,18.6 3.5,19.3 C9,20.1 17,19.9 20.8,17.8" fill="#fff" stroke="#4a4a4a" stroke-width="0.85"/>
<path d="M24.4,3.6 C24.6,1.8 25.6,1.0 26.4,1.6 C26.8,2.4 26.6,3.6 26,4.6" fill="#9a7080" stroke="#4a2a3a" stroke-width="0.7"/>
<path d="M4.6,15.6 C3.8,8.5 7.5,1.7 14,1.5 C18,1.4 20.8,2.2 23,3.4 C25,4.2 26.8,5 27.6,6.2 C28.6,7.6 29.6,9 30.2,10.2 C29.5,11.3 28.5,11.8 27.3,12.2 C26.3,13.8 24.8,14.8 23.2,15.4 L22.4,17.2 L20.2,17 L19.8,16 C17.5,16.4 16,16.6 14.8,16.8 L14,17.7 L11.9,17.5 L11.7,16.4 C9,16.6 6.5,16.6 4.6,15.6 Z" fill="#d6d6dc" stroke="#4a4a4a" stroke-width="0.85" stroke-linejoin="round"/>
<path d="M21.8,4.2 C21.6,2.8 22.4,2.0 23.4,2.2 C24.2,2.6 24.3,3.8 23.8,4.8" fill="#b08898" stroke="#4a2a3a" stroke-width="0.7"/>
<circle cx="27.0" cy="7.6" r="0.6" fill="#444"/>
<path d="M9.5,9.5 C10.5,12 12.5,14.5 15,15.5" fill="none" stroke="#8a8a90" stroke-width="0.5"/>
<path d="M13.6,17.2 l1.6,0.4 M20,16.9 l1.8,0.3" stroke="#333" stroke-width="1.1"/>
</g>
<text x="338.2" y="197.84" font-size="6.5" text-anchor="middle" font-weight="normal" fill="#262626" >CD45.1<tspan baseline-shift="2.6" font-size="4.81">+</tspan></text>
<text x="393.8" y="164.54" font-size="6.5" text-anchor="middle" font-weight="normal" fill="#262626" >Secondary (2<tspan baseline-shift="2.6" font-size="4.81">°</tspan>) recipient mice</text>
<text x="393.8" y="174.44" font-size="6.5" text-anchor="middle" font-weight="normal" fill="#262626" >20 weeks</text>
<line x1="362.7" y1="178.4" x2="420" y2="178.4" stroke="#222" stroke-width="1.1" stroke-dasharray="1.2,1.6"/>
<path d="M419,176.6 L423,178.4 L419,180.2 Z" fill="#222"/>
<text x="393.8" y="187.24" font-size="6.5" text-anchor="middle" font-weight="normal" fill="#262626" >PB analysis</text>
<text x="438.9" y="179.14" font-size="6.5" text-anchor="middle" font-weight="normal" fill="#262626" >BM</text>
<text x="438.9" y="186.44" font-size="6.5" text-anchor="middle" font-weight="normal" fill="#262626" >harvest</text>
<line x1="31" y1="206.6" x2="40.5" y2="206.6" stroke="#c8c8c8" stroke-width="1" />
<circle cx="35.7" cy="206.6" r="1.4" fill="#c2c2c2" stroke="none" stroke-width="1"/>
<text x="43.5" y="208.84" font-size="6.5" text-anchor="start" font-weight="normal" fill="#262626" >WT</text>
<line x1="64.3" y1="206.6" x2="72.5" y2="206.6" stroke="#8d8bc4" stroke-width="1" />
<rect x="66.9" y="205.2" width="2.8" height="2.8" fill="#8482c0" stroke="none" stroke-width="1" />
<text x="76.5" y="208.84" font-size="6.5" text-anchor="start" font-weight="normal" fill="#262626" >PROSER1 KO</text>
<text transform="translate(7.3,235.95) scale(0.95,1)" x="0" y="0" font-size="11.6" font-weight="bold" fill="#111" stroke="#111" stroke-width="0.5">D</text>
<text x="260.5" y="233.46" font-size="8.3" text-anchor="middle" font-weight="normal" fill="#262626" >1<tspan baseline-shift="3.32" font-size="6.14">o</tspan> recipient mice</text>
<line x1="36.2" y1="249" x2="36.2" y2="337.3" stroke="#1a1a1a" stroke-width="1.1" />
<line x1="36.2" y1="339.7" x2="36.2" y2="346.1" stroke="#1a1a1a" stroke-width="1.1" />
<line x1="34" y1="337.3" x2="38.4" y2="337.3" stroke="#1a1a1a" stroke-width="0.9" />
<line x1="34" y1="339.7" x2="38.4" y2="339.7" stroke="#1a1a1a" stroke-width="0.9" />
<line x1="33.4" y1="345.6" x2="99" y2="345.6" stroke="#1a1a1a" stroke-width="1.1" />
<text x="30.8" y="347.81" font-size="6.4" text-anchor="end" font-weight="normal" fill="#262626" >0</text>
<line x1="33.6" y1="337" x2="36.2" y2="337" stroke="#1a1a1a" stroke-width="0.9" />
<text x="30.8" y="339.21" font-size="6.4" text-anchor="end" font-weight="normal" fill="#262626" >40</text>
<line x1="33.6" y1="308.5" x2="36.2" y2="308.5" stroke="#1a1a1a" stroke-width="0.9" />
<text x="30.8" y="310.71" font-size="6.4" text-anchor="end" font-weight="normal" fill="#262626" >60</text>
<line x1="33.6" y1="280" x2="36.2" y2="280" stroke="#1a1a1a" stroke-width="0.9" />
<text x="30.8" y="282.21" font-size="6.4" text-anchor="end" font-weight="normal" fill="#262626" >80</text>
<line x1="33.6" y1="251.5" x2="36.2" y2="251.5" stroke="#1a1a1a" stroke-width="0.9" />
<text x="30.8" y="253.71" font-size="6.4" text-anchor="end" font-weight="normal" fill="#262626" >100</text>
<line x1="34.5" y1="322.75" x2="36.2" y2="322.75" stroke="#1a1a1a" stroke-width="0.9" />
<line x1="34.5" y1="294.25" x2="36.2" y2="294.25" stroke="#1a1a1a" stroke-width="0.9" />
<line x1="34.5" y1="265.75" x2="36.2" y2="265.75" stroke="#1a1a1a" stroke-width="0.9" />
<line x1="44.6" y1="345.6" x2="44.6" y2="347.4" stroke="#1a1a1a" stroke-width="0.9" />
<text x="44.6" y="356.97" font-size="6" text-anchor="middle" font-weight="normal" fill="#262626" >8</text>
<line x1="60" y1="345.6" x2="60" y2="347.4" stroke="#1a1a1a" stroke-width="0.9" />
<text x="60" y="356.97" font-size="6" text-anchor="middle" font-weight="normal" fill="#262626" >12</text>
<line x1="75.6" y1="345.6" x2="75.6" y2="347.4" stroke="#1a1a1a" stroke-width="0.9" />
<text x="75.6" y="356.97" font-size="6" text-anchor="middle" font-weight="normal" fill="#262626" >16</text>
<line x1="91" y1="345.6" x2="91" y2="347.4" stroke="#1a1a1a" stroke-width="0.9" />
<text x="91" y="356.97" font-size="6" text-anchor="middle" font-weight="normal" fill="#262626" >20</text>
<text x="68.3" y="244.18" font-size="6.6" text-anchor="middle" font-weight="normal" fill="#262626" >B cells</text>
<polyline points="44.6,305.65 60,304.94 75.6,299.95 91,300.66" fill="none" stroke="#c8c8c8" stroke-width="1.0"/>
<line x1="44.6" y1="299.95" x2="44.6" y2="311.35" stroke="#c8c8c8" stroke-width="0.9" />
<line x1="43.1" y1="299.95" x2="46.1" y2="299.95" stroke="#c8c8c8" stroke-width="0.9" />
<line x1="43.1" y1="311.35" x2="46.1" y2="311.35" stroke="#c8c8c8" stroke-width="0.9" />
<circle cx="44.6" cy="305.65" r="1.6" fill="#c4c4c4" stroke="#b0b0b0" stroke-width="0.5"/>
<line x1="60" y1="299.95" x2="60" y2="309.93" stroke="#c8c8c8" stroke-width="0.9" />
<line x1="58.5" y1="299.95" x2="61.5" y2="299.95" stroke="#c8c8c8" stroke-width="0.9" />
<line x1="58.5" y1="309.93" x2="61.5" y2="309.93" stroke="#c8c8c8" stroke-width="0.9" />
<circle cx="60" cy="304.94" r="1.6" fill="#c4c4c4" stroke="#b0b0b0" stroke-width="0.5"/>
<line x1="75.6" y1="294.25" x2="75.6" y2="305.65" stroke="#c8c8c8" stroke-width="0.9" />
<line x1="74.1" y1="294.25" x2="77.1" y2="294.25" stroke="#c8c8c8" stroke-width="0.9" />
<line x1="74.1" y1="305.65" x2="77.1" y2="305.65" stroke="#c8c8c8" stroke-width="0.9" />
<circle cx="75.6" cy="299.95" r="1.6" fill="#c4c4c4" stroke="#b0b0b0" stroke-width="0.5"/>
<line x1="91" y1="296.39" x2="91" y2="304.94" stroke="#c8c8c8" stroke-width="0.9" />
<line x1="89.5" y1="296.39" x2="92.5" y2="296.39" stroke="#c8c8c8" stroke-width="0.9" />
<line x1="89.5" y1="304.94" x2="92.5" y2="304.94" stroke="#c8c8c8" stroke-width="0.9" />
<circle cx="91" cy="300.66" r="1.6" fill="#c4c4c4" stroke="#b0b0b0" stroke-width="0.5"/>
<polyline points="44.6,296.39 60,294.96 75.6,300.66 91,304.23" fill="none" stroke="#8d8bc4" stroke-width="1.0"/>
<line x1="44.6" y1="291.4" x2="44.6" y2="301.38" stroke="#8d8bc4" stroke-width="0.9" />
<line x1="43.1" y1="291.4" x2="46.1" y2="291.4" stroke="#8d8bc4" stroke-width="0.9" />
<line x1="43.1" y1="301.38" x2="46.1" y2="301.38" stroke="#8d8bc4" stroke-width="0.9" />
<rect x="42.9" y="294.69" width="3.4" height="3.4" fill="#8c8ac6" stroke="#6664a6" stroke-width="0.6" />
<line x1="60" y1="288.55" x2="60" y2="301.38" stroke="#8d8bc4" stroke-width="0.9" />
<line x1="58.5" y1="288.55" x2="61.5" y2="288.55" stroke="#8d8bc4" stroke-width="0.9" />
<line x1="58.5" y1="301.38" x2="61.5" y2="301.38" stroke="#8d8bc4" stroke-width="0.9" />
<rect x="58.3" y="293.26" width="3.4" height="3.4" fill="#8c8ac6" stroke="#6664a6" stroke-width="0.6" />
<line x1="75.6" y1="293.54" x2="75.6" y2="307.79" stroke="#8d8bc4" stroke-width="0.9" />
<line x1="74.1" y1="293.54" x2="77.1" y2="293.54" stroke="#8d8bc4" stroke-width="0.9" />
<line x1="74.1" y1="307.79" x2="77.1" y2="307.79" stroke="#8d8bc4" stroke-width="0.9" />
<rect x="73.9" y="298.96" width="3.4" height="3.4" fill="#8c8ac6" stroke="#6664a6" stroke-width="0.6" />
<line x1="91" y1="297.1" x2="91" y2="311.35" stroke="#8d8bc4" stroke-width="0.9" />
<line x1="89.5" y1="297.1" x2="92.5" y2="297.1" stroke="#8d8bc4" stroke-width="0.9" />
<line x1="89.5" y1="311.35" x2="92.5" y2="311.35" stroke="#8d8bc4" stroke-width="0.9" />
<rect x="89.3" y="302.53" width="3.4" height="3.4" fill="#8c8ac6" stroke="#6664a6" stroke-width="0.6" />
<line x1="122.3" y1="249.6" x2="122.3" y2="337.3" stroke="#1a1a1a" stroke-width="1.1" />
<line x1="122.3" y1="339.7" x2="122.3" y2="346.1" stroke="#1a1a1a" stroke-width="1.1" />
<line x1="120.1" y1="337.3" x2="124.5" y2="337.3" stroke="#1a1a1a" stroke-width="0.9" />
<line x1="120.1" y1="339.7" x2="124.5" y2="339.7" stroke="#1a1a1a" stroke-width="0.9" />
<line x1="119.5" y1="345.6" x2="184.8" y2="345.6" stroke="#1a1a1a" stroke-width="1.1" />
<text x="116.9" y="347.81" font-size="6.4" text-anchor="end" font-weight="normal" fill="#262626" >0</text>
<line x1="119.7" y1="337.5" x2="122.3" y2="337.5" stroke="#1a1a1a" stroke-width="0.9" />
<text x="116.9" y="339.71" font-size="6.4" text-anchor="end" font-weight="normal" fill="#262626" >20</text>
<line x1="119.7" y1="309.03" x2="122.3" y2="309.03" stroke="#1a1a1a" stroke-width="0.9" />
<text x="116.9" y="311.24" font-size="6.4" text-anchor="end" font-weight="normal" fill="#262626" >40</text>
<line x1="119.7" y1="280.57" x2="122.3" y2="280.57" stroke="#1a1a1a" stroke-width="0.9" />
<text x="116.9" y="282.77" font-size="6.4" text-anchor="end" font-weight="normal" fill="#262626" >60</text>
<line x1="119.7" y1="252.1" x2="122.3" y2="252.1" stroke="#1a1a1a" stroke-width="0.9" />
<text x="116.9" y="254.31" font-size="6.4" text-anchor="end" font-weight="normal" fill="#262626" >80</text>
<line x1="120.6" y1="323.27" x2="122.3" y2="323.27" stroke="#1a1a1a" stroke-width="0.9" />
<line x1="120.6" y1="294.8" x2="122.3" y2="294.8" stroke="#1a1a1a" stroke-width="0.9" />
<line x1="120.6" y1="266.33" x2="122.3" y2="266.33" stroke="#1a1a1a" stroke-width="0.9" />
<line x1="130.4" y1="345.6" x2="130.4" y2="347.4" stroke="#1a1a1a" stroke-width="0.9" />
<text x="130.4" y="356.97" font-size="6" text-anchor="middle" font-weight="normal" fill="#262626" >8</text>
<line x1="145.8" y1="345.6" x2="145.8" y2="347.4" stroke="#1a1a1a" stroke-width="0.9" />
<text x="145.8" y="356.97" font-size="6" text-anchor="middle" font-weight="normal" fill="#262626" >12</text>
<line x1="161.3" y1="345.6" x2="161.3" y2="347.4" stroke="#1a1a1a" stroke-width="0.9" />
<text x="161.3" y="356.97" font-size="6" text-anchor="middle" font-weight="normal" fill="#262626" >16</text>
<line x1="176.8" y1="345.6" x2="176.8" y2="347.4" stroke="#1a1a1a" stroke-width="0.9" />
<text x="176.8" y="356.97" font-size="6" text-anchor="middle" font-weight="normal" fill="#262626" >20</text>
<text x="154" y="244.18" font-size="6.6" text-anchor="middle" font-weight="normal" fill="#262626" >CD4<tspan baseline-shift="2.32" font-size="4.29">+</tspan> T cells</text>
<polyline points="130.4,292.67 145.8,284.12 161.3,279.86 176.8,277.01" fill="none" stroke="#c8c8c8" stroke-width="1.0"/>
<line x1="130.4" y1="288.39" x2="130.4" y2="296.94" stroke="#c8c8c8" stroke-width="0.9" />
<line x1="128.9" y1="288.39" x2="131.9" y2="288.39" stroke="#c8c8c8" stroke-width="0.9" />
<line x1="128.9" y1="296.94" x2="131.9" y2="296.94" stroke="#c8c8c8" stroke-width="0.9" />
<circle cx="130.4" cy="292.67" r="1.6" fill="#c4c4c4" stroke="#b0b0b0" stroke-width="0.5"/>
<line x1="145.8" y1="279.86" x2="145.8" y2="288.39" stroke="#c8c8c8" stroke-width="0.9" />
<line x1="144.3" y1="279.86" x2="147.3" y2="279.86" stroke="#c8c8c8" stroke-width="0.9" />
<line x1="144.3" y1="288.39" x2="147.3" y2="288.39" stroke="#c8c8c8" stroke-width="0.9" />
<circle cx="145.8" cy="284.12" r="1.6" fill="#c4c4c4" stroke="#b0b0b0" stroke-width="0.5"/>
<line x1="161.3" y1="274.87" x2="161.3" y2="284.84" stroke="#c8c8c8" stroke-width="0.9" />
<line x1="159.8" y1="274.87" x2="162.8" y2="274.87" stroke="#c8c8c8" stroke-width="0.9" />
<line x1="159.8" y1="284.84" x2="162.8" y2="284.84" stroke="#c8c8c8" stroke-width="0.9" />
<circle cx="161.3" cy="279.86" r="1.6" fill="#c4c4c4" stroke="#b0b0b0" stroke-width="0.5"/>
<line x1="176.8" y1="270.6" x2="176.8" y2="283.41" stroke="#c8c8c8" stroke-width="0.9" />
<line x1="175.3" y1="270.6" x2="178.3" y2="270.6" stroke="#c8c8c8" stroke-width="0.9" />
<line x1="175.3" y1="283.41" x2="178.3" y2="283.41" stroke="#c8c8c8" stroke-width="0.9" />
<circle cx="176.8" cy="277.01" r="1.6" fill="#c4c4c4" stroke="#b0b0b0" stroke-width="0.5"/>
<polyline points="130.4,291.95 145.8,281.28 161.3,279.86 176.8,284.12" fill="none" stroke="#8d8bc4" stroke-width="1.0"/>
<line x1="130.4" y1="287.68" x2="130.4" y2="296.22" stroke="#8d8bc4" stroke-width="0.9" />
<line x1="128.9" y1="287.68" x2="131.9" y2="287.68" stroke="#8d8bc4" stroke-width="0.9" />
<line x1="128.9" y1="296.22" x2="131.9" y2="296.22" stroke="#8d8bc4" stroke-width="0.9" />
<rect x="128.7" y="290.25" width="3.4" height="3.4" fill="#8c8ac6" stroke="#6664a6" stroke-width="0.6" />
<line x1="145.8" y1="276.3" x2="145.8" y2="286.26" stroke="#8d8bc4" stroke-width="0.9" />
<line x1="144.3" y1="276.3" x2="147.3" y2="276.3" stroke="#8d8bc4" stroke-width="0.9" />
<line x1="144.3" y1="286.26" x2="147.3" y2="286.26" stroke="#8d8bc4" stroke-width="0.9" />
<rect x="144.1" y="279.58" width="3.4" height="3.4" fill="#8c8ac6" stroke="#6664a6" stroke-width="0.6" />
<line x1="161.3" y1="274.16" x2="161.3" y2="285.55" stroke="#8d8bc4" stroke-width="0.9" />
<line x1="159.8" y1="274.16" x2="162.8" y2="274.16" stroke="#8d8bc4" stroke-width="0.9" />
<line x1="159.8" y1="285.55" x2="162.8" y2="285.55" stroke="#8d8bc4" stroke-width="0.9" />
<rect x="159.6" y="278.16" width="3.4" height="3.4" fill="#8c8ac6" stroke="#6664a6" stroke-width="0.6" />
<line x1="176.8" y1="277.72" x2="176.8" y2="290.53" stroke="#8d8bc4" stroke-width="0.9" />
<line x1="175.3" y1="277.72" x2="178.3" y2="277.72" stroke="#8d8bc4" stroke-width="0.9" />
<line x1="175.3" y1="290.53" x2="178.3" y2="290.53" stroke="#8d8bc4" stroke-width="0.9" />
<rect x="175.1" y="282.43" width="3.4" height="3.4" fill="#8c8ac6" stroke="#6664a6" stroke-width="0.6" />
<line x1="207.7" y1="249.8" x2="207.7" y2="337.3" stroke="#1a1a1a" stroke-width="1.1" />
<line x1="207.7" y1="339.7" x2="207.7" y2="346.1" stroke="#1a1a1a" stroke-width="1.1" />
<line x1="205.5" y1="337.3" x2="209.9" y2="337.3" stroke="#1a1a1a" stroke-width="0.9" />
<line x1="205.5" y1="339.7" x2="209.9" y2="339.7" stroke="#1a1a1a" stroke-width="0.9" />
<line x1="204.9" y1="345.6" x2="270.5" y2="345.6" stroke="#1a1a1a" stroke-width="1.1" />
<text x="202.3" y="347.81" font-size="6.4" text-anchor="end" font-weight="normal" fill="#262626" >0</text>
<line x1="205.1" y1="336.3" x2="207.7" y2="336.3" stroke="#1a1a1a" stroke-width="0.9" />
<text x="202.3" y="338.51" font-size="6.4" text-anchor="end" font-weight="normal" fill="#262626" >30</text>
<line x1="205.1" y1="315.3" x2="207.7" y2="315.3" stroke="#1a1a1a" stroke-width="0.9" />
<text x="202.3" y="317.51" font-size="6.4" text-anchor="end" font-weight="normal" fill="#262626" >40</text>
<line x1="205.1" y1="294.3" x2="207.7" y2="294.3" stroke="#1a1a1a" stroke-width="0.9" />
<text x="202.3" y="296.51" font-size="6.4" text-anchor="end" font-weight="normal" fill="#262626" >50</text>
<line x1="205.1" y1="273.3" x2="207.7" y2="273.3" stroke="#1a1a1a" stroke-width="0.9" />
<text x="202.3" y="275.51" font-size="6.4" text-anchor="end" font-weight="normal" fill="#262626" >60</text>
<line x1="205.1" y1="252.3" x2="207.7" y2="252.3" stroke="#1a1a1a" stroke-width="0.9" />
<text x="202.3" y="254.51" font-size="6.4" text-anchor="end" font-weight="normal" fill="#262626" >70</text>
<line x1="206" y1="325.8" x2="207.7" y2="325.8" stroke="#1a1a1a" stroke-width="0.9" />
<line x1="206" y1="304.8" x2="207.7" y2="304.8" stroke="#1a1a1a" stroke-width="0.9" />
<line x1="206" y1="283.8" x2="207.7" y2="283.8" stroke="#1a1a1a" stroke-width="0.9" />
<line x1="206" y1="262.8" x2="207.7" y2="262.8" stroke="#1a1a1a" stroke-width="0.9" />
<line x1="215.8" y1="345.6" x2="215.8" y2="347.4" stroke="#1a1a1a" stroke-width="0.9" />
<text x="215.8" y="356.97" font-size="6" text-anchor="middle" font-weight="normal" fill="#262626" >8</text>
<line x1="231.5" y1="345.6" x2="231.5" y2="347.4" stroke="#1a1a1a" stroke-width="0.9" />
<text x="231.5" y="356.97" font-size="6" text-anchor="middle" font-weight="normal" fill="#262626" >12</text>
<line x1="247" y1="345.6" x2="247" y2="347.4" stroke="#1a1a1a" stroke-width="0.9" />
<text x="247" y="356.97" font-size="6" text-anchor="middle" font-weight="normal" fill="#262626" >16</text>
<line x1="262.5" y1="345.6" x2="262.5" y2="347.4" stroke="#1a1a1a" stroke-width="0.9" />
<text x="262.5" y="356.97" font-size="6" text-anchor="middle" font-weight="normal" fill="#262626" >20</text>
<text x="239" y="244.18" font-size="6.6" text-anchor="middle" font-weight="normal" fill="#262626" >CD8<tspan baseline-shift="2.32" font-size="4.29">+</tspan> T cells</text>
<polyline points="215.8,312.15 231.5,299.55 247,292.62 262.5,290.1" fill="none" stroke="#c8c8c8" stroke-width="1.0"/>
<line x1="215.8" y1="306.9" x2="215.8" y2="317.4" stroke="#c8c8c8" stroke-width="0.9" />
<line x1="214.3" y1="306.9" x2="217.3" y2="306.9" stroke="#c8c8c8" stroke-width="0.9" />
<line x1="214.3" y1="317.4" x2="217.3" y2="317.4" stroke="#c8c8c8" stroke-width="0.9" />
<circle cx="215.8" cy="312.15" r="1.6" fill="#c4c4c4" stroke="#b0b0b0" stroke-width="0.5"/>
<line x1="231.5" y1="294.3" x2="231.5" y2="304.8" stroke="#c8c8c8" stroke-width="0.9" />
<line x1="230" y1="294.3" x2="233" y2="294.3" stroke="#c8c8c8" stroke-width="0.9" />
<line x1="230" y1="304.8" x2="233" y2="304.8" stroke="#c8c8c8" stroke-width="0.9" />
<circle cx="231.5" cy="299.55" r="1.6" fill="#c4c4c4" stroke="#b0b0b0" stroke-width="0.5"/>
<line x1="247" y1="287.37" x2="247" y2="297.87" stroke="#c8c8c8" stroke-width="0.9" />
<line x1="245.5" y1="287.37" x2="248.5" y2="287.37" stroke="#c8c8c8" stroke-width="0.9" />
<line x1="245.5" y1="297.87" x2="248.5" y2="297.87" stroke="#c8c8c8" stroke-width="0.9" />
<circle cx="247" cy="292.62" r="1.6" fill="#c4c4c4" stroke="#b0b0b0" stroke-width="0.5"/>
<line x1="262.5" y1="283.8" x2="262.5" y2="296.4" stroke="#c8c8c8" stroke-width="0.9" />
<line x1="261" y1="283.8" x2="264" y2="283.8" stroke="#c8c8c8" stroke-width="0.9" />
<line x1="261" y1="296.4" x2="264" y2="296.4" stroke="#c8c8c8" stroke-width="0.9" />
<circle cx="262.5" cy="290.1" r="1.6" fill="#c4c4c4" stroke="#b0b0b0" stroke-width="0.5"/>
<polyline points="215.8,309 231.5,293.88 247,286.95 262.5,286.95" fill="none" stroke="#8d8bc4" stroke-width="1.0"/>
<line x1="215.8" y1="300.6" x2="215.8" y2="317.4" stroke="#8d8bc4" stroke-width="0.9" />
<line x1="214.3" y1="300.6" x2="217.3" y2="300.6" stroke="#8d8bc4" stroke-width="0.9" />
<line x1="214.3" y1="317.4" x2="217.3" y2="317.4" stroke="#8d8bc4" stroke-width="0.9" />
<rect x="214.1" y="307.3" width="3.4" height="3.4" fill="#8c8ac6" stroke="#6664a6" stroke-width="0.6" />
<line x1="231.5" y1="286.53" x2="231.5" y2="301.23" stroke="#8d8bc4" stroke-width="0.9" />
<line x1="230" y1="286.53" x2="233" y2="286.53" stroke="#8d8bc4" stroke-width="0.9" />
<line x1="230" y1="301.23" x2="233" y2="301.23" stroke="#8d8bc4" stroke-width="0.9" />
<rect x="229.8" y="292.18" width="3.4" height="3.4" fill="#8c8ac6" stroke="#6664a6" stroke-width="0.6" />
<line x1="247" y1="280.65" x2="247" y2="293.25" stroke="#8d8bc4" stroke-width="0.9" />
<line x1="245.5" y1="280.65" x2="248.5" y2="280.65" stroke="#8d8bc4" stroke-width="0.9" />
<line x1="245.5" y1="293.25" x2="248.5" y2="293.25" stroke="#8d8bc4" stroke-width="0.9" />
<rect x="245.3" y="285.25" width="3.4" height="3.4" fill="#8c8ac6" stroke="#6664a6" stroke-width="0.6" />
<line x1="262.5" y1="278.55" x2="262.5" y2="295.35" stroke="#8d8bc4" stroke-width="0.9" />
<line x1="261" y1="278.55" x2="264" y2="278.55" stroke="#8d8bc4" stroke-width="0.9" />
<line x1="261" y1="295.35" x2="264" y2="295.35" stroke="#8d8bc4" stroke-width="0.9" />
<rect x="260.8" y="285.25" width="3.4" height="3.4" fill="#8c8ac6" stroke="#6664a6" stroke-width="0.6" />
<line x1="299.8" y1="249.8" x2="299.8" y2="337.3" stroke="#1a1a1a" stroke-width="1.1" />
<line x1="299.8" y1="339.7" x2="299.8" y2="346.1" stroke="#1a1a1a" stroke-width="1.1" />
<line x1="297.6" y1="337.3" x2="302" y2="337.3" stroke="#1a1a1a" stroke-width="0.9" />
<line x1="297.6" y1="339.7" x2="302" y2="339.7" stroke="#1a1a1a" stroke-width="0.9" />
<line x1="297" y1="345.6" x2="362.2" y2="345.6" stroke="#1a1a1a" stroke-width="1.1" />
<text x="294.4" y="347.81" font-size="6.4" text-anchor="end" font-weight="normal" fill="#262626" >0</text>
<line x1="297.2" y1="325" x2="299.8" y2="325" stroke="#1a1a1a" stroke-width="0.9" />
<text x="294.4" y="327.21" font-size="6.4" text-anchor="end" font-weight="normal" fill="#262626" >40</text>
<line x1="297.2" y1="300.77" x2="299.8" y2="300.77" stroke="#1a1a1a" stroke-width="0.9" />
<text x="294.4" y="302.97" font-size="6.4" text-anchor="end" font-weight="normal" fill="#262626" >60</text>
<line x1="297.2" y1="276.53" x2="299.8" y2="276.53" stroke="#1a1a1a" stroke-width="0.9" />
<text x="294.4" y="278.74" font-size="6.4" text-anchor="end" font-weight="normal" fill="#262626" >80</text>
<line x1="297.2" y1="252.3" x2="299.8" y2="252.3" stroke="#1a1a1a" stroke-width="0.9" />
<text x="294.4" y="254.51" font-size="6.4" text-anchor="end" font-weight="normal" fill="#262626" >100</text>
<line x1="298.1" y1="312.88" x2="299.8" y2="312.88" stroke="#1a1a1a" stroke-width="0.9" />
<line x1="298.1" y1="288.65" x2="299.8" y2="288.65" stroke="#1a1a1a" stroke-width="0.9" />
<line x1="298.1" y1="264.42" x2="299.8" y2="264.42" stroke="#1a1a1a" stroke-width="0.9" />
<line x1="307.5" y1="345.6" x2="307.5" y2="347.4" stroke="#1a1a1a" stroke-width="0.9" />
<text x="307.5" y="356.97" font-size="6" text-anchor="middle" font-weight="normal" fill="#262626" >8</text>
<line x1="323.2" y1="345.6" x2="323.2" y2="347.4" stroke="#1a1a1a" stroke-width="0.9" />
<text x="323.2" y="356.97" font-size="6" text-anchor="middle" font-weight="normal" fill="#262626" >12</text>
<line x1="338.7" y1="345.6" x2="338.7" y2="347.4" stroke="#1a1a1a" stroke-width="0.9" />
<text x="338.7" y="356.97" font-size="6" text-anchor="middle" font-weight="normal" fill="#262626" >16</text>
<line x1="354.2" y1="345.6" x2="354.2" y2="347.4" stroke="#1a1a1a" stroke-width="0.9" />
<text x="354.2" y="356.97" font-size="6" text-anchor="middle" font-weight="normal" fill="#262626" >20</text>
<text x="331" y="244.18" font-size="6.6" text-anchor="middle" font-weight="normal" fill="#262626" >Mac1<tspan baseline-shift="2.32" font-size="4.29">+</tspan>Gr1<tspan baseline-shift="2.32" font-size="4.29">+</tspan></text>
<polyline points="307.5,301.98 323.2,296.53 338.7,288.65 354.2,287.44" fill="none" stroke="#c8c8c8" stroke-width="1.0"/>
<line x1="307.5" y1="296.53" x2="307.5" y2="307.43" stroke="#c8c8c8" stroke-width="0.9" />
<line x1="306" y1="296.53" x2="309" y2="296.53" stroke="#c8c8c8" stroke-width="0.9" />
<line x1="306" y1="307.43" x2="309" y2="307.43" stroke="#c8c8c8" stroke-width="0.9" />
<circle cx="307.5" cy="301.98" r="1.6" fill="#c4c4c4" stroke="#b0b0b0" stroke-width="0.5"/>
<line x1="323.2" y1="290.47" x2="323.2" y2="302.58" stroke="#c8c8c8" stroke-width="0.9" />
<line x1="321.7" y1="290.47" x2="324.7" y2="290.47" stroke="#c8c8c8" stroke-width="0.9" />
<line x1="321.7" y1="302.58" x2="324.7" y2="302.58" stroke="#c8c8c8" stroke-width="0.9" />
<circle cx="323.2" cy="296.53" r="1.6" fill="#c4c4c4" stroke="#b0b0b0" stroke-width="0.5"/>
<line x1="338.7" y1="280.77" x2="338.7" y2="296.53" stroke="#c8c8c8" stroke-width="0.9" />
<line x1="337.2" y1="280.77" x2="340.2" y2="280.77" stroke="#c8c8c8" stroke-width="0.9" />
<line x1="337.2" y1="296.53" x2="340.2" y2="296.53" stroke="#c8c8c8" stroke-width="0.9" />
<circle cx="338.7" cy="288.65" r="1.6" fill="#c4c4c4" stroke="#b0b0b0" stroke-width="0.5"/>
<line x1="354.2" y1="280.17" x2="354.2" y2="294.71" stroke="#c8c8c8" stroke-width="0.9" />
<line x1="352.7" y1="280.17" x2="355.7" y2="280.17" stroke="#c8c8c8" stroke-width="0.9" />
<line x1="352.7" y1="294.71" x2="355.7" y2="294.71" stroke="#c8c8c8" stroke-width="0.9" />
<circle cx="354.2" cy="287.44" r="1.6" fill="#c4c4c4" stroke="#b0b0b0" stroke-width="0.5"/>
<polyline points="307.5,299.56 323.2,300.16 338.7,315.31 354.2,317.73" fill="none" stroke="#8d8bc4" stroke-width="1.0"/>
<line x1="307.5" y1="294.71" x2="307.5" y2="304.4" stroke="#8d8bc4" stroke-width="0.9" />
<line x1="306" y1="294.71" x2="309" y2="294.71" stroke="#8d8bc4" stroke-width="0.9" />
<line x1="306" y1="304.4" x2="309" y2="304.4" stroke="#8d8bc4" stroke-width="0.9" />
<rect x="305.8" y="297.86" width="3.4" height="3.4" fill="#8c8ac6" stroke="#6664a6" stroke-width="0.6" />
<line x1="323.2" y1="292.89" x2="323.2" y2="307.43" stroke="#8d8bc4" stroke-width="0.9" />
<line x1="321.7" y1="292.89" x2="324.7" y2="292.89" stroke="#8d8bc4" stroke-width="0.9" />
<line x1="321.7" y1="307.43" x2="324.7" y2="307.43" stroke="#8d8bc4" stroke-width="0.9" />
<rect x="321.5" y="298.46" width="3.4" height="3.4" fill="#8c8ac6" stroke="#6664a6" stroke-width="0.6" />
<line x1="338.7" y1="306.82" x2="338.7" y2="323.79" stroke="#8d8bc4" stroke-width="0.9" />
<line x1="337.2" y1="306.82" x2="340.2" y2="306.82" stroke="#8d8bc4" stroke-width="0.9" />
<line x1="337.2" y1="323.79" x2="340.2" y2="323.79" stroke="#8d8bc4" stroke-width="0.9" />
<rect x="337" y="313.61" width="3.4" height="3.4" fill="#8c8ac6" stroke="#6664a6" stroke-width="0.6" />
<line x1="354.2" y1="308.04" x2="354.2" y2="327.42" stroke="#8d8bc4" stroke-width="0.9" />
<line x1="352.7" y1="308.04" x2="355.7" y2="308.04" stroke="#8d8bc4" stroke-width="0.9" />
<line x1="352.7" y1="327.42" x2="355.7" y2="327.42" stroke="#8d8bc4" stroke-width="0.9" />
<rect x="352.5" y="316.03" width="3.4" height="3.4" fill="#8c8ac6" stroke="#6664a6" stroke-width="0.6" />
<text x="338.7" y="304.77" font-size="6.6" text-anchor="middle" font-weight="normal" fill="#262626" >*</text>
<text x="354.2" y="305.98" font-size="6.6" text-anchor="middle" font-weight="normal" fill="#262626" >*</text>
<line x1="389.2" y1="249.7" x2="389.2" y2="337.3" stroke="#1a1a1a" stroke-width="1.1" />
<line x1="389.2" y1="339.7" x2="389.2" y2="346.1" stroke="#1a1a1a" stroke-width="1.1" />
<line x1="387" y1="337.3" x2="391.4" y2="337.3" stroke="#1a1a1a" stroke-width="0.9" />
<line x1="387" y1="339.7" x2="391.4" y2="339.7" stroke="#1a1a1a" stroke-width="0.9" />
<line x1="386.4" y1="345.6" x2="451.1" y2="345.6" stroke="#1a1a1a" stroke-width="1.1" />
<text x="383.8" y="347.81" font-size="6.4" text-anchor="end" font-weight="normal" fill="#262626" >0</text>
<line x1="386.6" y1="325.4" x2="389.2" y2="325.4" stroke="#1a1a1a" stroke-width="0.9" />
<text x="383.8" y="327.61" font-size="6.4" text-anchor="end" font-weight="normal" fill="#262626" >40</text>
<line x1="386.6" y1="301" x2="389.2" y2="301" stroke="#1a1a1a" stroke-width="0.9" />
<text x="383.8" y="303.21" font-size="6.4" text-anchor="end" font-weight="normal" fill="#262626" >60</text>
<line x1="386.6" y1="276.6" x2="389.2" y2="276.6" stroke="#1a1a1a" stroke-width="0.9" />
<text x="383.8" y="278.81" font-size="6.4" text-anchor="end" font-weight="normal" fill="#262626" >80</text>
<line x1="386.6" y1="252.2" x2="389.2" y2="252.2" stroke="#1a1a1a" stroke-width="0.9" />
<text x="383.8" y="254.41" font-size="6.4" text-anchor="end" font-weight="normal" fill="#262626" >100</text>
<line x1="387.5" y1="313.2" x2="389.2" y2="313.2" stroke="#1a1a1a" stroke-width="0.9" />
<line x1="387.5" y1="288.8" x2="389.2" y2="288.8" stroke="#1a1a1a" stroke-width="0.9" />
<line x1="387.5" y1="264.4" x2="389.2" y2="264.4" stroke="#1a1a1a" stroke-width="0.9" />
<line x1="396.9" y1="345.6" x2="396.9" y2="347.4" stroke="#1a1a1a" stroke-width="0.9" />
<text x="396.9" y="356.97" font-size="6" text-anchor="middle" font-weight="normal" fill="#262626" >8</text>
<line x1="412.3" y1="345.6" x2="412.3" y2="347.4" stroke="#1a1a1a" stroke-width="0.9" />
<text x="412.3" y="356.97" font-size="6" text-anchor="middle" font-weight="normal" fill="#262626" >12</text>
<line x1="427.7" y1="345.6" x2="427.7" y2="347.4" stroke="#1a1a1a" stroke-width="0.9" />
<text x="427.7" y="356.97" font-size="6" text-anchor="middle" font-weight="normal" fill="#262626" >16</text>
<line x1="443.1" y1="345.6" x2="443.1" y2="347.4" stroke="#1a1a1a" stroke-width="0.9" />
<text x="443.1" y="356.97" font-size="6" text-anchor="middle" font-weight="normal" fill="#262626" >20</text>
<text x="420" y="244.18" font-size="6.6" text-anchor="middle" font-weight="normal" fill="#262626" >Mac1<tspan baseline-shift="2.32" font-size="4.29">+</tspan></text>
<polyline points="396.9,310.76 412.3,305.27 427.7,294.29 443.1,293.68" fill="none" stroke="#c8c8c8" stroke-width="1.0"/>
<line x1="396.9" y1="307.1" x2="396.9" y2="314.42" stroke="#c8c8c8" stroke-width="0.9" />
<line x1="395.4" y1="307.1" x2="398.4" y2="307.1" stroke="#c8c8c8" stroke-width="0.9" />
<line x1="395.4" y1="314.42" x2="398.4" y2="314.42" stroke="#c8c8c8" stroke-width="0.9" />
<circle cx="396.9" cy="310.76" r="1.6" fill="#c4c4c4" stroke="#b0b0b0" stroke-width="0.5"/>
<line x1="412.3" y1="301" x2="412.3" y2="309.54" stroke="#c8c8c8" stroke-width="0.9" />
<line x1="410.8" y1="301" x2="413.8" y2="301" stroke="#c8c8c8" stroke-width="0.9" />
<line x1="410.8" y1="309.54" x2="413.8" y2="309.54" stroke="#c8c8c8" stroke-width="0.9" />
<circle cx="412.3" cy="305.27" r="1.6" fill="#c4c4c4" stroke="#b0b0b0" stroke-width="0.5"/>
<line x1="427.7" y1="286.97" x2="427.7" y2="301.61" stroke="#c8c8c8" stroke-width="0.9" />
<line x1="426.2" y1="286.97" x2="429.2" y2="286.97" stroke="#c8c8c8" stroke-width="0.9" />
<line x1="426.2" y1="301.61" x2="429.2" y2="301.61" stroke="#c8c8c8" stroke-width="0.9" />
<circle cx="427.7" cy="294.29" r="1.6" fill="#c4c4c4" stroke="#b0b0b0" stroke-width="0.5"/>
<line x1="443.1" y1="286.36" x2="443.1" y2="301" stroke="#c8c8c8" stroke-width="0.9" />
<line x1="441.6" y1="286.36" x2="444.6" y2="286.36" stroke="#c8c8c8" stroke-width="0.9" />
<line x1="441.6" y1="301" x2="444.6" y2="301" stroke="#c8c8c8" stroke-width="0.9" />
<circle cx="443.1" cy="293.68" r="1.6" fill="#c4c4c4" stroke="#b0b0b0" stroke-width="0.5"/>
<polyline points="396.9,310.15 412.3,311.98 427.7,324.18 443.1,326.62" fill="none" stroke="#8d8bc4" stroke-width="1.0"/>
<line x1="396.9" y1="305.88" x2="396.9" y2="314.42" stroke="#8d8bc4" stroke-width="0.9" />
<line x1="395.4" y1="305.88" x2="398.4" y2="305.88" stroke="#8d8bc4" stroke-width="0.9" />
<line x1="395.4" y1="314.42" x2="398.4" y2="314.42" stroke="#8d8bc4" stroke-width="0.9" />
<rect x="395.2" y="308.45" width="3.4" height="3.4" fill="#8c8ac6" stroke="#6664a6" stroke-width="0.6" />
<line x1="412.3" y1="304.66" x2="412.3" y2="319.3" stroke="#8d8bc4" stroke-width="0.9" />
<line x1="410.8" y1="304.66" x2="413.8" y2="304.66" stroke="#8d8bc4" stroke-width="0.9" />
<line x1="410.8" y1="319.3" x2="413.8" y2="319.3" stroke="#8d8bc4" stroke-width="0.9" />
<rect x="410.6" y="310.28" width="3.4" height="3.4" fill="#8c8ac6" stroke="#6664a6" stroke-width="0.6" />
<line x1="427.7" y1="316.86" x2="427.7" y2="331.5" stroke="#8d8bc4" stroke-width="0.9" />
<line x1="426.2" y1="316.86" x2="429.2" y2="316.86" stroke="#8d8bc4" stroke-width="0.9" />
<line x1="426.2" y1="331.5" x2="429.2" y2="331.5" stroke="#8d8bc4" stroke-width="0.9" />
<rect x="426" y="322.48" width="3.4" height="3.4" fill="#8c8ac6" stroke="#6664a6" stroke-width="0.6" />
<line x1="443.1" y1="319.3" x2="443.1" y2="333.94" stroke="#8d8bc4" stroke-width="0.9" />
<line x1="441.6" y1="319.3" x2="444.6" y2="319.3" stroke="#8d8bc4" stroke-width="0.9" />
<line x1="441.6" y1="333.94" x2="444.6" y2="333.94" stroke="#8d8bc4" stroke-width="0.9" />
<rect x="441.4" y="324.92" width="3.4" height="3.4" fill="#8c8ac6" stroke="#6664a6" stroke-width="0.6" />
<text x="427.7" y="308.69" font-size="6.6" text-anchor="middle" font-weight="normal" fill="#262626" >*</text>
<text x="443.1" y="308.69" font-size="6.6" text-anchor="middle" font-weight="normal" fill="#262626" >**</text>
<line x1="458" y1="299.5" x2="468" y2="299.5" stroke="#c8c8c8" stroke-width="1" />
<circle cx="462.8" cy="299.5" r="1.5" fill="#c2c2c2" stroke="none" stroke-width="1"/>
<text x="471" y="301.74" font-size="6.5" text-anchor="start" font-weight="normal" fill="#262626" >WT</text>
<line x1="458" y1="309.9" x2="468" y2="309.9" stroke="#8d8bc4" stroke-width="1" />
<rect x="461.2" y="308.3" width="3.2" height="3.2" fill="#8482c0" stroke="none" stroke-width="1" />
<text x="471" y="312.14" font-size="6.5" text-anchor="start" font-weight="normal" fill="#262626" >PROSER1 KO</text>
<text x="239.1" y="369.64" font-size="8.8" text-anchor="middle" font-weight="bold" fill="#262626" textLength="68" lengthAdjust="spacingAndGlyphs">Weeks after 1<tspan baseline-shift="3.52" font-size="6.51">o</tspan> transplant</text>
<text transform="translate(11.5,293.4) rotate(-90)" x="0" y="2.76" font-size="8" text-anchor="middle" font-weight="bold" fill="#262626" textLength="43.6" lengthAdjust="spacingAndGlyphs">% CD45.2<tspan baseline-shift="3.2" font-size="5.92">+</tspan> cells</text>
<text transform="translate(7.4,397.35) scale(0.95,1)" x="0" y="0" font-size="11.6" font-weight="bold" fill="#111" stroke="#111" stroke-width="0.5">E</text>
<text x="256.3" y="394.16" font-size="8.3" text-anchor="middle" font-weight="normal" fill="#262626" >2<tspan baseline-shift="3.32" font-size="6.14">o</tspan> recipient mice</text>
<line x1="36.2" y1="410.8" x2="36.2" y2="498.1" stroke="#1a1a1a" stroke-width="1.1" />
<line x1="36.2" y1="500.5" x2="36.2" y2="506.9" stroke="#1a1a1a" stroke-width="1.1" />
<line x1="34" y1="498.1" x2="38.4" y2="498.1" stroke="#1a1a1a" stroke-width="0.9" />
<line x1="34" y1="500.5" x2="38.4" y2="500.5" stroke="#1a1a1a" stroke-width="0.9" />
<line x1="33.4" y1="506.4" x2="99" y2="506.4" stroke="#1a1a1a" stroke-width="1.1" />
<text x="30.8" y="508.61" font-size="6.4" text-anchor="end" font-weight="normal" fill="#262626" >0</text>
<line x1="33.6" y1="498.5" x2="36.2" y2="498.5" stroke="#1a1a1a" stroke-width="0.9" />
<text x="30.8" y="500.71" font-size="6.4" text-anchor="end" font-weight="normal" fill="#262626" >40</text>
<line x1="33.6" y1="470.1" x2="36.2" y2="470.1" stroke="#1a1a1a" stroke-width="0.9" />
<text x="30.8" y="472.31" font-size="6.4" text-anchor="end" font-weight="normal" fill="#262626" >60</text>
<line x1="33.6" y1="441.7" x2="36.2" y2="441.7" stroke="#1a1a1a" stroke-width="0.9" />
<text x="30.8" y="443.91" font-size="6.4" text-anchor="end" font-weight="normal" fill="#262626" >80</text>
<line x1="33.6" y1="413.3" x2="36.2" y2="413.3" stroke="#1a1a1a" stroke-width="0.9" />
<text x="30.8" y="415.51" font-size="6.4" text-anchor="end" font-weight="normal" fill="#262626" >100</text>
<line x1="34.5" y1="484.3" x2="36.2" y2="484.3" stroke="#1a1a1a" stroke-width="0.9" />
<line x1="34.5" y1="455.9" x2="36.2" y2="455.9" stroke="#1a1a1a" stroke-width="0.9" />
<line x1="34.5" y1="427.5" x2="36.2" y2="427.5" stroke="#1a1a1a" stroke-width="0.9" />
<line x1="44.6" y1="506.4" x2="44.6" y2="508.2" stroke="#1a1a1a" stroke-width="0.9" />
<text x="44.6" y="517.77" font-size="6" text-anchor="middle" font-weight="normal" fill="#262626" >8</text>
<line x1="60.2" y1="506.4" x2="60.2" y2="508.2" stroke="#1a1a1a" stroke-width="0.9" />
<text x="60.2" y="517.77" font-size="6" text-anchor="middle" font-weight="normal" fill="#262626" >12</text>
<line x1="75.6" y1="506.4" x2="75.6" y2="508.2" stroke="#1a1a1a" stroke-width="0.9" />
<text x="75.6" y="517.77" font-size="6" text-anchor="middle" font-weight="normal" fill="#262626" >16</text>
<line x1="91" y1="506.4" x2="91" y2="508.2" stroke="#1a1a1a" stroke-width="0.9" />
<text x="91" y="517.77" font-size="6" text-anchor="middle" font-weight="normal" fill="#262626" >20</text>
<text x="68.3" y="405.38" font-size="6.6" text-anchor="middle" font-weight="normal" fill="#262626" >B cells</text>
<polyline points="44.6,448.09 60.2,445.25 75.6,445.96 91,445.25" fill="none" stroke="#c8c8c8" stroke-width="1.0"/>
<line x1="44.6" y1="446.39" x2="44.6" y2="449.79" stroke="#c8c8c8" stroke-width="0.9" />
<line x1="43.1" y1="446.39" x2="46.1" y2="446.39" stroke="#c8c8c8" stroke-width="0.9" />
<line x1="43.1" y1="449.79" x2="46.1" y2="449.79" stroke="#c8c8c8" stroke-width="0.9" />
<circle cx="44.6" cy="448.09" r="1.6" fill="#c4c4c4" stroke="#b0b0b0" stroke-width="0.5"/>
<line x1="60.2" y1="442.41" x2="60.2" y2="448.09" stroke="#c8c8c8" stroke-width="0.9" />
<line x1="58.7" y1="442.41" x2="61.7" y2="442.41" stroke="#c8c8c8" stroke-width="0.9" />
<line x1="58.7" y1="448.09" x2="61.7" y2="448.09" stroke="#c8c8c8" stroke-width="0.9" />
<circle cx="60.2" cy="445.25" r="1.6" fill="#c4c4c4" stroke="#b0b0b0" stroke-width="0.5"/>
<line x1="75.6" y1="441.7" x2="75.6" y2="450.22" stroke="#c8c8c8" stroke-width="0.9" />
<line x1="74.1" y1="441.7" x2="77.1" y2="441.7" stroke="#c8c8c8" stroke-width="0.9" />
<line x1="74.1" y1="450.22" x2="77.1" y2="450.22" stroke="#c8c8c8" stroke-width="0.9" />
<circle cx="75.6" cy="445.96" r="1.6" fill="#c4c4c4" stroke="#b0b0b0" stroke-width="0.5"/>
<line x1="91" y1="440.28" x2="91" y2="450.22" stroke="#c8c8c8" stroke-width="0.9" />
<line x1="89.5" y1="440.28" x2="92.5" y2="440.28" stroke="#c8c8c8" stroke-width="0.9" />
<line x1="89.5" y1="450.22" x2="92.5" y2="450.22" stroke="#c8c8c8" stroke-width="0.9" />
<circle cx="91" cy="445.25" r="1.6" fill="#c4c4c4" stroke="#b0b0b0" stroke-width="0.5"/>
<polyline points="44.6,477.91 60.2,477.48 75.6,476.92 91,477.48" fill="none" stroke="#8d8bc4" stroke-width="1.0"/>
<line x1="44.6" y1="472.23" x2="44.6" y2="483.59" stroke="#8d8bc4" stroke-width="0.9" />
<line x1="43.1" y1="472.23" x2="46.1" y2="472.23" stroke="#8d8bc4" stroke-width="0.9" />
<line x1="43.1" y1="483.59" x2="46.1" y2="483.59" stroke="#8d8bc4" stroke-width="0.9" />
<rect x="42.9" y="476.21" width="3.4" height="3.4" fill="#8c8ac6" stroke="#6664a6" stroke-width="0.6" />
<line x1="60.2" y1="469.25" x2="60.2" y2="485.72" stroke="#8d8bc4" stroke-width="0.9" />
<line x1="58.7" y1="469.25" x2="61.7" y2="469.25" stroke="#8d8bc4" stroke-width="0.9" />
<line x1="58.7" y1="485.72" x2="61.7" y2="485.72" stroke="#8d8bc4" stroke-width="0.9" />
<rect x="58.5" y="475.78" width="3.4" height="3.4" fill="#8c8ac6" stroke="#6664a6" stroke-width="0.6" />
<line x1="75.6" y1="468.11" x2="75.6" y2="485.72" stroke="#8d8bc4" stroke-width="0.9" />
<line x1="74.1" y1="468.11" x2="77.1" y2="468.11" stroke="#8d8bc4" stroke-width="0.9" />
<line x1="74.1" y1="485.72" x2="77.1" y2="485.72" stroke="#8d8bc4" stroke-width="0.9" />
<rect x="73.9" y="475.22" width="3.4" height="3.4" fill="#8c8ac6" stroke="#6664a6" stroke-width="0.6" />
<line x1="91" y1="467.54" x2="91" y2="487.42" stroke="#8d8bc4" stroke-width="0.9" />
<line x1="89.5" y1="467.54" x2="92.5" y2="467.54" stroke="#8d8bc4" stroke-width="0.9" />
<line x1="89.5" y1="487.42" x2="92.5" y2="487.42" stroke="#8d8bc4" stroke-width="0.9" />
<rect x="89.3" y="475.78" width="3.4" height="3.4" fill="#8c8ac6" stroke="#6664a6" stroke-width="0.6" />
<text x="44.6" y="468.95" font-size="6.6" text-anchor="middle" font-weight="normal" fill="#262626" >**</text>
<text x="60.2" y="466.82" font-size="6.6" text-anchor="middle" font-weight="normal" fill="#262626" >**</text>
<text x="75.6" y="466.11" font-size="6.6" text-anchor="middle" font-weight="normal" fill="#262626" >*</text>
<text x="91" y="466.11" font-size="6.6" text-anchor="middle" font-weight="normal" fill="#262626" >*</text>
<line x1="122.8" y1="410.9" x2="122.8" y2="498.1" stroke="#1a1a1a" stroke-width="1.1" />
<line x1="122.8" y1="500.5" x2="122.8" y2="506.9" stroke="#1a1a1a" stroke-width="1.1" />
<line x1="120.6" y1="498.1" x2="125" y2="498.1" stroke="#1a1a1a" stroke-width="0.9" />
<line x1="120.6" y1="500.5" x2="125" y2="500.5" stroke="#1a1a1a" stroke-width="0.9" />
<line x1="120" y1="506.4" x2="184.8" y2="506.4" stroke="#1a1a1a" stroke-width="1.1" />
<text x="117.4" y="508.61" font-size="6.4" text-anchor="end" font-weight="normal" fill="#262626" >0</text>
<line x1="120.2" y1="498.1" x2="122.8" y2="498.1" stroke="#1a1a1a" stroke-width="0.9" />
<text x="117.4" y="500.31" font-size="6.4" text-anchor="end" font-weight="normal" fill="#262626" >20</text>
<line x1="120.2" y1="469.87" x2="122.8" y2="469.87" stroke="#1a1a1a" stroke-width="0.9" />
<text x="117.4" y="472.07" font-size="6.4" text-anchor="end" font-weight="normal" fill="#262626" >40</text>
<line x1="120.2" y1="441.63" x2="122.8" y2="441.63" stroke="#1a1a1a" stroke-width="0.9" />
<text x="117.4" y="443.84" font-size="6.4" text-anchor="end" font-weight="normal" fill="#262626" >60</text>
<line x1="120.2" y1="413.4" x2="122.8" y2="413.4" stroke="#1a1a1a" stroke-width="0.9" />
<text x="117.4" y="415.61" font-size="6.4" text-anchor="end" font-weight="normal" fill="#262626" >80</text>
<line x1="121.1" y1="483.98" x2="122.8" y2="483.98" stroke="#1a1a1a" stroke-width="0.9" />
<line x1="121.1" y1="455.75" x2="122.8" y2="455.75" stroke="#1a1a1a" stroke-width="0.9" />
<line x1="121.1" y1="427.52" x2="122.8" y2="427.52" stroke="#1a1a1a" stroke-width="0.9" />
<line x1="130.4" y1="506.4" x2="130.4" y2="508.2" stroke="#1a1a1a" stroke-width="0.9" />
<text x="130.4" y="517.77" font-size="6" text-anchor="middle" font-weight="normal" fill="#262626" >8</text>
<line x1="145.8" y1="506.4" x2="145.8" y2="508.2" stroke="#1a1a1a" stroke-width="0.9" />
<text x="145.8" y="517.77" font-size="6" text-anchor="middle" font-weight="normal" fill="#262626" >12</text>
<line x1="161.3" y1="506.4" x2="161.3" y2="508.2" stroke="#1a1a1a" stroke-width="0.9" />
<text x="161.3" y="517.77" font-size="6" text-anchor="middle" font-weight="normal" fill="#262626" >16</text>
<line x1="176.8" y1="506.4" x2="176.8" y2="508.2" stroke="#1a1a1a" stroke-width="0.9" />
<text x="176.8" y="517.77" font-size="6" text-anchor="middle" font-weight="normal" fill="#262626" >20</text>
<text x="154" y="405.38" font-size="6.6" text-anchor="middle" font-weight="normal" fill="#262626" >CD4<tspan baseline-shift="2.32" font-size="4.29">+</tspan> T cells</text>
<polyline points="130.4,447 145.8,443.05 161.3,439.8 176.8,437.4" fill="none" stroke="#c8c8c8" stroke-width="1.0"/>
<line x1="130.4" y1="444.88" x2="130.4" y2="449.12" stroke="#c8c8c8" stroke-width="0.9" />
<line x1="128.9" y1="444.88" x2="131.9" y2="444.88" stroke="#c8c8c8" stroke-width="0.9" />
<line x1="128.9" y1="449.12" x2="131.9" y2="449.12" stroke="#c8c8c8" stroke-width="0.9" />
<circle cx="130.4" cy="447" r="1.6" fill="#c4c4c4" stroke="#b0b0b0" stroke-width="0.5"/>
<line x1="145.8" y1="440.22" x2="145.8" y2="445.87" stroke="#c8c8c8" stroke-width="0.9" />
<line x1="144.3" y1="440.22" x2="147.3" y2="440.22" stroke="#c8c8c8" stroke-width="0.9" />
<line x1="144.3" y1="445.87" x2="147.3" y2="445.87" stroke="#c8c8c8" stroke-width="0.9" />
<circle cx="145.8" cy="443.05" r="1.6" fill="#c4c4c4" stroke="#b0b0b0" stroke-width="0.5"/>
<line x1="161.3" y1="436.27" x2="161.3" y2="443.33" stroke="#c8c8c8" stroke-width="0.9" />
<line x1="159.8" y1="436.27" x2="162.8" y2="436.27" stroke="#c8c8c8" stroke-width="0.9" />
<line x1="159.8" y1="443.33" x2="162.8" y2="443.33" stroke="#c8c8c8" stroke-width="0.9" />
<circle cx="161.3" cy="439.8" r="1.6" fill="#c4c4c4" stroke="#b0b0b0" stroke-width="0.5"/>
<line x1="176.8" y1="432.46" x2="176.8" y2="442.34" stroke="#c8c8c8" stroke-width="0.9" />
<line x1="175.3" y1="432.46" x2="178.3" y2="432.46" stroke="#c8c8c8" stroke-width="0.9" />
<line x1="175.3" y1="442.34" x2="178.3" y2="442.34" stroke="#c8c8c8" stroke-width="0.9" />
<circle cx="176.8" cy="437.4" r="1.6" fill="#c4c4c4" stroke="#b0b0b0" stroke-width="0.5"/>
<polyline points="130.4,470.29 145.8,463.66 161.3,463.23 176.8,467.47" fill="none" stroke="#8d8bc4" stroke-width="1.0"/>
<line x1="130.4" y1="465.35" x2="130.4" y2="475.23" stroke="#8d8bc4" stroke-width="0.9" />
<line x1="128.9" y1="465.35" x2="131.9" y2="465.35" stroke="#8d8bc4" stroke-width="0.9" />
<line x1="128.9" y1="475.23" x2="131.9" y2="475.23" stroke="#8d8bc4" stroke-width="0.9" />
<rect x="128.7" y="468.59" width="3.4" height="3.4" fill="#8c8ac6" stroke="#6664a6" stroke-width="0.6" />
<line x1="145.8" y1="456.6" x2="145.8" y2="470.71" stroke="#8d8bc4" stroke-width="0.9" />
<line x1="144.3" y1="456.6" x2="147.3" y2="456.6" stroke="#8d8bc4" stroke-width="0.9" />
<line x1="144.3" y1="470.71" x2="147.3" y2="470.71" stroke="#8d8bc4" stroke-width="0.9" />
<rect x="144.1" y="461.96" width="3.4" height="3.4" fill="#8c8ac6" stroke="#6664a6" stroke-width="0.6" />
<line x1="161.3" y1="455.47" x2="161.3" y2="471" stroke="#8d8bc4" stroke-width="0.9" />
<line x1="159.8" y1="455.47" x2="162.8" y2="455.47" stroke="#8d8bc4" stroke-width="0.9" />
<line x1="159.8" y1="471" x2="162.8" y2="471" stroke="#8d8bc4" stroke-width="0.9" />
<rect x="159.6" y="461.53" width="3.4" height="3.4" fill="#8c8ac6" stroke="#6664a6" stroke-width="0.6" />
<line x1="176.8" y1="460.41" x2="176.8" y2="474.53" stroke="#8d8bc4" stroke-width="0.9" />
<line x1="175.3" y1="460.41" x2="178.3" y2="460.41" stroke="#8d8bc4" stroke-width="0.9" />
<line x1="175.3" y1="474.53" x2="178.3" y2="474.53" stroke="#8d8bc4" stroke-width="0.9" />
<rect x="175.1" y="465.77" width="3.4" height="3.4" fill="#8c8ac6" stroke="#6664a6" stroke-width="0.6" />
<text x="130.4" y="460.26" font-size="6.6" text-anchor="middle" font-weight="normal" fill="#262626" >**</text>
<text x="145.8" y="453.2" font-size="6.6" text-anchor="middle" font-weight="normal" fill="#262626" >*</text>
<text x="161.3" y="451.93" font-size="6.6" text-anchor="middle" font-weight="normal" fill="#262626" >*</text>
<text x="176.8" y="456.73" font-size="6.6" text-anchor="middle" font-weight="normal" fill="#262626" >**</text>
<line x1="208.6" y1="410.9" x2="208.6" y2="498.1" stroke="#1a1a1a" stroke-width="1.1" />
<line x1="208.6" y1="500.5" x2="208.6" y2="506.9" stroke="#1a1a1a" stroke-width="1.1" />
<line x1="206.4" y1="498.1" x2="210.8" y2="498.1" stroke="#1a1a1a" stroke-width="0.9" />
<line x1="206.4" y1="500.5" x2="210.8" y2="500.5" stroke="#1a1a1a" stroke-width="0.9" />
<line x1="205.8" y1="506.4" x2="270.4" y2="506.4" stroke="#1a1a1a" stroke-width="1.1" />
<text x="203.2" y="508.61" font-size="6.4" text-anchor="end" font-weight="normal" fill="#262626" >0</text>
<line x1="206" y1="498.5" x2="208.6" y2="498.5" stroke="#1a1a1a" stroke-width="0.9" />
<text x="203.2" y="500.71" font-size="6.4" text-anchor="end" font-weight="normal" fill="#262626" >30</text>
<line x1="206" y1="477.23" x2="208.6" y2="477.23" stroke="#1a1a1a" stroke-width="0.9" />
<text x="203.2" y="479.43" font-size="6.4" text-anchor="end" font-weight="normal" fill="#262626" >40</text>
<line x1="206" y1="455.95" x2="208.6" y2="455.95" stroke="#1a1a1a" stroke-width="0.9" />
<text x="203.2" y="458.16" font-size="6.4" text-anchor="end" font-weight="normal" fill="#262626" >50</text>
<line x1="206" y1="434.67" x2="208.6" y2="434.67" stroke="#1a1a1a" stroke-width="0.9" />
<text x="203.2" y="436.88" font-size="6.4" text-anchor="end" font-weight="normal" fill="#262626" >60</text>
<line x1="206" y1="413.4" x2="208.6" y2="413.4" stroke="#1a1a1a" stroke-width="0.9" />
<text x="203.2" y="415.61" font-size="6.4" text-anchor="end" font-weight="normal" fill="#262626" >70</text>
<line x1="206.9" y1="487.86" x2="208.6" y2="487.86" stroke="#1a1a1a" stroke-width="0.9" />
<line x1="206.9" y1="466.59" x2="208.6" y2="466.59" stroke="#1a1a1a" stroke-width="0.9" />
<line x1="206.9" y1="445.31" x2="208.6" y2="445.31" stroke="#1a1a1a" stroke-width="0.9" />
<line x1="206.9" y1="424.04" x2="208.6" y2="424.04" stroke="#1a1a1a" stroke-width="0.9" />
<line x1="216" y1="506.4" x2="216" y2="508.2" stroke="#1a1a1a" stroke-width="0.9" />
<text x="216" y="517.77" font-size="6" text-anchor="middle" font-weight="normal" fill="#262626" >8</text>
<line x1="231.4" y1="506.4" x2="231.4" y2="508.2" stroke="#1a1a1a" stroke-width="0.9" />
<text x="231.4" y="517.77" font-size="6" text-anchor="middle" font-weight="normal" fill="#262626" >12</text>
<line x1="246.9" y1="506.4" x2="246.9" y2="508.2" stroke="#1a1a1a" stroke-width="0.9" />
<text x="246.9" y="517.77" font-size="6" text-anchor="middle" font-weight="normal" fill="#262626" >16</text>
<line x1="262.4" y1="506.4" x2="262.4" y2="508.2" stroke="#1a1a1a" stroke-width="0.9" />
<text x="262.4" y="517.77" font-size="6" text-anchor="middle" font-weight="normal" fill="#262626" >20</text>
<text x="239.5" y="405.38" font-size="6.6" text-anchor="middle" font-weight="normal" fill="#262626" >CD8<tspan baseline-shift="2.32" font-size="4.29">+</tspan> T cells</text>
<polyline points="216,446.38 231.4,447.65 246.9,446.16 262.4,445.1" fill="none" stroke="#c8c8c8" stroke-width="1.0"/>
<line x1="216" y1="442.55" x2="216" y2="450.21" stroke="#c8c8c8" stroke-width="0.9" />
<line x1="214.5" y1="442.55" x2="217.5" y2="442.55" stroke="#c8c8c8" stroke-width="0.9" />
<line x1="214.5" y1="450.21" x2="217.5" y2="450.21" stroke="#c8c8c8" stroke-width="0.9" />
<circle cx="216" cy="446.38" r="1.6" fill="#c4c4c4" stroke="#b0b0b0" stroke-width="0.5"/>
<line x1="231.4" y1="443.82" x2="231.4" y2="451.48" stroke="#c8c8c8" stroke-width="0.9" />
<line x1="229.9" y1="443.82" x2="232.9" y2="443.82" stroke="#c8c8c8" stroke-width="0.9" />
<line x1="229.9" y1="451.48" x2="232.9" y2="451.48" stroke="#c8c8c8" stroke-width="0.9" />
<circle cx="231.4" cy="447.65" r="1.6" fill="#c4c4c4" stroke="#b0b0b0" stroke-width="0.5"/>
<line x1="246.9" y1="442.33" x2="246.9" y2="449.99" stroke="#c8c8c8" stroke-width="0.9" />
<line x1="245.4" y1="442.33" x2="248.4" y2="442.33" stroke="#c8c8c8" stroke-width="0.9" />
<line x1="245.4" y1="449.99" x2="248.4" y2="449.99" stroke="#c8c8c8" stroke-width="0.9" />
<circle cx="246.9" cy="446.16" r="1.6" fill="#c4c4c4" stroke="#b0b0b0" stroke-width="0.5"/>
<line x1="262.4" y1="440.21" x2="262.4" y2="449.99" stroke="#c8c8c8" stroke-width="0.9" />
<line x1="260.9" y1="440.21" x2="263.9" y2="440.21" stroke="#c8c8c8" stroke-width="0.9" />
<line x1="260.9" y1="449.99" x2="263.9" y2="449.99" stroke="#c8c8c8" stroke-width="0.9" />
<circle cx="262.4" cy="445.1" r="1.6" fill="#c4c4c4" stroke="#b0b0b0" stroke-width="0.5"/>
<polyline points="216,482.33 231.4,479.99 246.9,478.29 262.4,482.33" fill="none" stroke="#8d8bc4" stroke-width="1.0"/>
<line x1="216" y1="475.95" x2="216" y2="488.71" stroke="#8d8bc4" stroke-width="0.9" />
<line x1="214.5" y1="475.95" x2="217.5" y2="475.95" stroke="#8d8bc4" stroke-width="0.9" />
<line x1="214.5" y1="488.71" x2="217.5" y2="488.71" stroke="#8d8bc4" stroke-width="0.9" />
<rect x="214.3" y="480.63" width="3.4" height="3.4" fill="#8c8ac6" stroke="#6664a6" stroke-width="0.6" />
<line x1="231.4" y1="472.12" x2="231.4" y2="487.86" stroke="#8d8bc4" stroke-width="0.9" />
<line x1="229.9" y1="472.12" x2="232.9" y2="472.12" stroke="#8d8bc4" stroke-width="0.9" />
<line x1="229.9" y1="487.86" x2="232.9" y2="487.86" stroke="#8d8bc4" stroke-width="0.9" />
<rect x="229.7" y="478.29" width="3.4" height="3.4" fill="#8c8ac6" stroke="#6664a6" stroke-width="0.6" />
<line x1="246.9" y1="469.35" x2="246.9" y2="487.22" stroke="#8d8bc4" stroke-width="0.9" />
<line x1="245.4" y1="469.35" x2="248.4" y2="469.35" stroke="#8d8bc4" stroke-width="0.9" />
<line x1="245.4" y1="487.22" x2="248.4" y2="487.22" stroke="#8d8bc4" stroke-width="0.9" />
<rect x="245.2" y="476.59" width="3.4" height="3.4" fill="#8c8ac6" stroke="#6664a6" stroke-width="0.6" />
<line x1="262.4" y1="473.82" x2="262.4" y2="490.84" stroke="#8d8bc4" stroke-width="0.9" />
<line x1="260.9" y1="473.82" x2="263.9" y2="473.82" stroke="#8d8bc4" stroke-width="0.9" />
<line x1="260.9" y1="490.84" x2="263.9" y2="490.84" stroke="#8d8bc4" stroke-width="0.9" />
<rect x="260.7" y="480.63" width="3.4" height="3.4" fill="#8c8ac6" stroke="#6664a6" stroke-width="0.6" />
<text x="216" y="475.65" font-size="6.6" text-anchor="middle" font-weight="normal" fill="#262626" >***</text>
<text x="231.4" y="472.24" font-size="6.6" text-anchor="middle" font-weight="normal" fill="#262626" >**</text>
<text x="246.9" y="469.05" font-size="6.6" text-anchor="middle" font-weight="normal" fill="#262626" >**</text>
<text x="262.4" y="473.95" font-size="6.6" text-anchor="middle" font-weight="normal" fill="#262626" >**</text>
<line x1="296.3" y1="410.9" x2="296.3" y2="498.1" stroke="#1a1a1a" stroke-width="1.1" />
<line x1="296.3" y1="500.5" x2="296.3" y2="506.9" stroke="#1a1a1a" stroke-width="1.1" />
<line x1="294.1" y1="498.1" x2="298.5" y2="498.1" stroke="#1a1a1a" stroke-width="0.9" />
<line x1="294.1" y1="500.5" x2="298.5" y2="500.5" stroke="#1a1a1a" stroke-width="0.9" />
<line x1="293.5" y1="506.4" x2="358.9" y2="506.4" stroke="#1a1a1a" stroke-width="1.1" />
<text x="290.9" y="508.61" font-size="6.4" text-anchor="end" font-weight="normal" fill="#262626" >0</text>
<line x1="293.7" y1="498.1" x2="296.3" y2="498.1" stroke="#1a1a1a" stroke-width="0.9" />
<text x="290.9" y="500.31" font-size="6.4" text-anchor="end" font-weight="normal" fill="#262626" >40</text>
<line x1="293.7" y1="476.93" x2="296.3" y2="476.93" stroke="#1a1a1a" stroke-width="0.9" />
<text x="290.9" y="479.13" font-size="6.4" text-anchor="end" font-weight="normal" fill="#262626" >50</text>
<line x1="293.7" y1="455.75" x2="296.3" y2="455.75" stroke="#1a1a1a" stroke-width="0.9" />
<text x="290.9" y="457.96" font-size="6.4" text-anchor="end" font-weight="normal" fill="#262626" >60</text>
<line x1="293.7" y1="434.57" x2="296.3" y2="434.57" stroke="#1a1a1a" stroke-width="0.9" />
<text x="290.9" y="436.78" font-size="6.4" text-anchor="end" font-weight="normal" fill="#262626" >70</text>
<line x1="293.7" y1="413.4" x2="296.3" y2="413.4" stroke="#1a1a1a" stroke-width="0.9" />
<text x="290.9" y="415.61" font-size="6.4" text-anchor="end" font-weight="normal" fill="#262626" >80</text>
<line x1="294.6" y1="487.51" x2="296.3" y2="487.51" stroke="#1a1a1a" stroke-width="0.9" />
<line x1="294.6" y1="466.34" x2="296.3" y2="466.34" stroke="#1a1a1a" stroke-width="0.9" />
<line x1="294.6" y1="445.16" x2="296.3" y2="445.16" stroke="#1a1a1a" stroke-width="0.9" />
<line x1="294.6" y1="423.99" x2="296.3" y2="423.99" stroke="#1a1a1a" stroke-width="0.9" />
<line x1="304.5" y1="506.4" x2="304.5" y2="508.2" stroke="#1a1a1a" stroke-width="0.9" />
<text x="304.5" y="517.77" font-size="6" text-anchor="middle" font-weight="normal" fill="#262626" >8</text>
<line x1="319.9" y1="506.4" x2="319.9" y2="508.2" stroke="#1a1a1a" stroke-width="0.9" />
<text x="319.9" y="517.77" font-size="6" text-anchor="middle" font-weight="normal" fill="#262626" >12</text>
<line x1="335.4" y1="506.4" x2="335.4" y2="508.2" stroke="#1a1a1a" stroke-width="0.9" />
<text x="335.4" y="517.77" font-size="6" text-anchor="middle" font-weight="normal" fill="#262626" >16</text>
<line x1="350.9" y1="506.4" x2="350.9" y2="508.2" stroke="#1a1a1a" stroke-width="0.9" />
<text x="350.9" y="517.77" font-size="6" text-anchor="middle" font-weight="normal" fill="#262626" >20</text>
<text x="327.5" y="405.38" font-size="6.6" text-anchor="middle" font-weight="normal" fill="#262626" >Mac1<tspan baseline-shift="2.32" font-size="4.29">+</tspan>Gr1<tspan baseline-shift="2.32" font-size="4.29">+</tspan></text>
<polyline points="304.5,441.77 319.9,436.9 335.4,441.14 350.9,440.29" fill="none" stroke="#c8c8c8" stroke-width="1.0"/>
<line x1="304.5" y1="436.48" x2="304.5" y2="447.07" stroke="#c8c8c8" stroke-width="0.9" />
<line x1="303" y1="436.48" x2="306" y2="436.48" stroke="#c8c8c8" stroke-width="0.9" />
<line x1="303" y1="447.07" x2="306" y2="447.07" stroke="#c8c8c8" stroke-width="0.9" />
<circle cx="304.5" cy="441.77" r="1.6" fill="#c4c4c4" stroke="#b0b0b0" stroke-width="0.5"/>
<line x1="319.9" y1="431.61" x2="319.9" y2="442.2" stroke="#c8c8c8" stroke-width="0.9" />
<line x1="318.4" y1="431.61" x2="321.4" y2="431.61" stroke="#c8c8c8" stroke-width="0.9" />
<line x1="318.4" y1="442.2" x2="321.4" y2="442.2" stroke="#c8c8c8" stroke-width="0.9" />
<circle cx="319.9" cy="436.9" r="1.6" fill="#c4c4c4" stroke="#b0b0b0" stroke-width="0.5"/>
<line x1="335.4" y1="434.79" x2="335.4" y2="447.49" stroke="#c8c8c8" stroke-width="0.9" />
<line x1="333.9" y1="434.79" x2="336.9" y2="434.79" stroke="#c8c8c8" stroke-width="0.9" />
<line x1="333.9" y1="447.49" x2="336.9" y2="447.49" stroke="#c8c8c8" stroke-width="0.9" />
<circle cx="335.4" cy="441.14" r="1.6" fill="#c4c4c4" stroke="#b0b0b0" stroke-width="0.5"/>
<line x1="350.9" y1="433.94" x2="350.9" y2="446.64" stroke="#c8c8c8" stroke-width="0.9" />
<line x1="349.4" y1="433.94" x2="352.4" y2="433.94" stroke="#c8c8c8" stroke-width="0.9" />
<line x1="349.4" y1="446.64" x2="352.4" y2="446.64" stroke="#c8c8c8" stroke-width="0.9" />
<circle cx="350.9" cy="440.29" r="1.6" fill="#c4c4c4" stroke="#b0b0b0" stroke-width="0.5"/>
<polyline points="304.5,446.64 319.9,460.62 335.4,469.3 350.9,471.63" fill="none" stroke="#8d8bc4" stroke-width="1.0"/>
<line x1="304.5" y1="440.29" x2="304.5" y2="453" stroke="#8d8bc4" stroke-width="0.9" />
<line x1="303" y1="440.29" x2="306" y2="440.29" stroke="#8d8bc4" stroke-width="0.9" />
<line x1="303" y1="453" x2="306" y2="453" stroke="#8d8bc4" stroke-width="0.9" />
<rect x="302.8" y="444.94" width="3.4" height="3.4" fill="#8c8ac6" stroke="#6664a6" stroke-width="0.6" />
<line x1="319.9" y1="451.09" x2="319.9" y2="470.15" stroke="#8d8bc4" stroke-width="0.9" />
<line x1="318.4" y1="451.09" x2="321.4" y2="451.09" stroke="#8d8bc4" stroke-width="0.9" />
<line x1="318.4" y1="470.15" x2="321.4" y2="470.15" stroke="#8d8bc4" stroke-width="0.9" />
<rect x="318.2" y="458.92" width="3.4" height="3.4" fill="#8c8ac6" stroke="#6664a6" stroke-width="0.6" />
<line x1="335.4" y1="458.71" x2="335.4" y2="479.89" stroke="#8d8bc4" stroke-width="0.9" />
<line x1="333.9" y1="458.71" x2="336.9" y2="458.71" stroke="#8d8bc4" stroke-width="0.9" />
<line x1="333.9" y1="479.89" x2="336.9" y2="479.89" stroke="#8d8bc4" stroke-width="0.9" />
<rect x="333.7" y="467.6" width="3.4" height="3.4" fill="#8c8ac6" stroke="#6664a6" stroke-width="0.6" />
<line x1="350.9" y1="461.04" x2="350.9" y2="482.22" stroke="#8d8bc4" stroke-width="0.9" />
<line x1="349.4" y1="461.04" x2="352.4" y2="461.04" stroke="#8d8bc4" stroke-width="0.9" />
<line x1="349.4" y1="482.22" x2="352.4" y2="482.22" stroke="#8d8bc4" stroke-width="0.9" />
<rect x="349.2" y="469.93" width="3.4" height="3.4" fill="#8c8ac6" stroke="#6664a6" stroke-width="0.6" />
<text x="335.4" y="453.97" font-size="6.6" text-anchor="middle" font-weight="normal" fill="#262626" >*</text>
<text x="350.9" y="456.3" font-size="6.6" text-anchor="middle" font-weight="normal" fill="#262626" >*</text>
<line x1="382.1" y1="410.9" x2="382.1" y2="498.1" stroke="#1a1a1a" stroke-width="1.1" />
<line x1="382.1" y1="500.5" x2="382.1" y2="506.9" stroke="#1a1a1a" stroke-width="1.1" />
<line x1="379.9" y1="498.1" x2="384.3" y2="498.1" stroke="#1a1a1a" stroke-width="0.9" />
<line x1="379.9" y1="500.5" x2="384.3" y2="500.5" stroke="#1a1a1a" stroke-width="0.9" />
<line x1="379.3" y1="506.4" x2="444.2" y2="506.4" stroke="#1a1a1a" stroke-width="1.1" />
<text x="376.7" y="508.61" font-size="6.4" text-anchor="end" font-weight="normal" fill="#262626" >0</text>
<line x1="379.5" y1="498.1" x2="382.1" y2="498.1" stroke="#1a1a1a" stroke-width="0.9" />
<text x="376.7" y="500.31" font-size="6.4" text-anchor="end" font-weight="normal" fill="#262626" >40</text>
<line x1="379.5" y1="476.93" x2="382.1" y2="476.93" stroke="#1a1a1a" stroke-width="0.9" />
<text x="376.7" y="479.13" font-size="6.4" text-anchor="end" font-weight="normal" fill="#262626" >50</text>
<line x1="379.5" y1="455.75" x2="382.1" y2="455.75" stroke="#1a1a1a" stroke-width="0.9" />
<text x="376.7" y="457.96" font-size="6.4" text-anchor="end" font-weight="normal" fill="#262626" >60</text>
<line x1="379.5" y1="434.57" x2="382.1" y2="434.57" stroke="#1a1a1a" stroke-width="0.9" />
<text x="376.7" y="436.78" font-size="6.4" text-anchor="end" font-weight="normal" fill="#262626" >70</text>
<line x1="379.5" y1="413.4" x2="382.1" y2="413.4" stroke="#1a1a1a" stroke-width="0.9" />
<text x="376.7" y="415.61" font-size="6.4" text-anchor="end" font-weight="normal" fill="#262626" >80</text>
<line x1="380.4" y1="487.51" x2="382.1" y2="487.51" stroke="#1a1a1a" stroke-width="0.9" />
<line x1="380.4" y1="466.34" x2="382.1" y2="466.34" stroke="#1a1a1a" stroke-width="0.9" />
<line x1="380.4" y1="445.16" x2="382.1" y2="445.16" stroke="#1a1a1a" stroke-width="0.9" />
<line x1="380.4" y1="423.99" x2="382.1" y2="423.99" stroke="#1a1a1a" stroke-width="0.9" />
<line x1="389.8" y1="506.4" x2="389.8" y2="508.2" stroke="#1a1a1a" stroke-width="0.9" />
<text x="389.8" y="517.77" font-size="6" text-anchor="middle" font-weight="normal" fill="#262626" >8</text>
<line x1="405.3" y1="506.4" x2="405.3" y2="508.2" stroke="#1a1a1a" stroke-width="0.9" />
<text x="405.3" y="517.77" font-size="6" text-anchor="middle" font-weight="normal" fill="#262626" >12</text>
<line x1="420.8" y1="506.4" x2="420.8" y2="508.2" stroke="#1a1a1a" stroke-width="0.9" />
<text x="420.8" y="517.77" font-size="6" text-anchor="middle" font-weight="normal" fill="#262626" >16</text>
<line x1="436.2" y1="506.4" x2="436.2" y2="508.2" stroke="#1a1a1a" stroke-width="0.9" />
<text x="436.2" y="517.77" font-size="6" text-anchor="middle" font-weight="normal" fill="#262626" >20</text>
<text x="413" y="405.38" font-size="6.6" text-anchor="middle" font-weight="normal" fill="#262626" >Mac1<tspan baseline-shift="2.32" font-size="4.29">+</tspan></text>
<polyline points="389.8,451.09 405.3,445.59 420.8,446.01 436.2,445.59" fill="none" stroke="#c8c8c8" stroke-width="1.0"/>
<line x1="389.8" y1="446.86" x2="389.8" y2="455.33" stroke="#c8c8c8" stroke-width="0.9" />
<line x1="388.3" y1="446.86" x2="391.3" y2="446.86" stroke="#c8c8c8" stroke-width="0.9" />
<line x1="388.3" y1="455.33" x2="391.3" y2="455.33" stroke="#c8c8c8" stroke-width="0.9" />
<circle cx="389.8" cy="451.09" r="1.6" fill="#c4c4c4" stroke="#b0b0b0" stroke-width="0.5"/>
<line x1="405.3" y1="439.23" x2="405.3" y2="451.94" stroke="#c8c8c8" stroke-width="0.9" />
<line x1="403.8" y1="439.23" x2="406.8" y2="439.23" stroke="#c8c8c8" stroke-width="0.9" />
<line x1="403.8" y1="451.94" x2="406.8" y2="451.94" stroke="#c8c8c8" stroke-width="0.9" />
<circle cx="405.3" cy="445.59" r="1.6" fill="#c4c4c4" stroke="#b0b0b0" stroke-width="0.5"/>
<line x1="420.8" y1="439.66" x2="420.8" y2="452.36" stroke="#c8c8c8" stroke-width="0.9" />
<line x1="419.3" y1="439.66" x2="422.3" y2="439.66" stroke="#c8c8c8" stroke-width="0.9" />
<line x1="419.3" y1="452.36" x2="422.3" y2="452.36" stroke="#c8c8c8" stroke-width="0.9" />
<circle cx="420.8" cy="446.01" r="1.6" fill="#c4c4c4" stroke="#b0b0b0" stroke-width="0.5"/>
<line x1="436.2" y1="438.81" x2="436.2" y2="452.36" stroke="#c8c8c8" stroke-width="0.9" />
<line x1="434.7" y1="438.81" x2="437.7" y2="438.81" stroke="#c8c8c8" stroke-width="0.9" />
<line x1="434.7" y1="452.36" x2="437.7" y2="452.36" stroke="#c8c8c8" stroke-width="0.9" />
<circle cx="436.2" cy="445.59" r="1.6" fill="#c4c4c4" stroke="#b0b0b0" stroke-width="0.5"/>
<polyline points="389.8,468.88 405.3,480.1 420.8,482.01 436.2,483.91" fill="none" stroke="#8d8bc4" stroke-width="1.0"/>
<line x1="389.8" y1="461.47" x2="389.8" y2="476.29" stroke="#8d8bc4" stroke-width="0.9" />
<line x1="388.3" y1="461.47" x2="391.3" y2="461.47" stroke="#8d8bc4" stroke-width="0.9" />
<line x1="388.3" y1="476.29" x2="391.3" y2="476.29" stroke="#8d8bc4" stroke-width="0.9" />
<rect x="388.1" y="467.18" width="3.4" height="3.4" fill="#8c8ac6" stroke="#6664a6" stroke-width="0.6" />
<line x1="405.3" y1="469.51" x2="405.3" y2="490.69" stroke="#8d8bc4" stroke-width="0.9" />
<line x1="403.8" y1="469.51" x2="406.8" y2="469.51" stroke="#8d8bc4" stroke-width="0.9" />
<line x1="403.8" y1="490.69" x2="406.8" y2="490.69" stroke="#8d8bc4" stroke-width="0.9" />
<rect x="403.6" y="478.4" width="3.4" height="3.4" fill="#8c8ac6" stroke="#6664a6" stroke-width="0.6" />
<line x1="420.8" y1="470.36" x2="420.8" y2="493.65" stroke="#8d8bc4" stroke-width="0.9" />
<line x1="419.3" y1="470.36" x2="422.3" y2="470.36" stroke="#8d8bc4" stroke-width="0.9" />
<line x1="419.3" y1="493.65" x2="422.3" y2="493.65" stroke="#8d8bc4" stroke-width="0.9" />
<rect x="419.1" y="480.31" width="3.4" height="3.4" fill="#8c8ac6" stroke="#6664a6" stroke-width="0.6" />
<line x1="436.2" y1="472.27" x2="436.2" y2="495.56" stroke="#8d8bc4" stroke-width="0.9" />
<line x1="434.7" y1="472.27" x2="437.7" y2="472.27" stroke="#8d8bc4" stroke-width="0.9" />
<line x1="434.7" y1="495.56" x2="437.7" y2="495.56" stroke="#8d8bc4" stroke-width="0.9" />
<rect x="434.5" y="482.21" width="3.4" height="3.4" fill="#8c8ac6" stroke="#6664a6" stroke-width="0.6" />
<text x="405.3" y="461.39" font-size="6.6" text-anchor="middle" font-weight="normal" fill="#262626" >*</text>
<text x="420.8" y="462.44" font-size="6.6" text-anchor="middle" font-weight="normal" fill="#262626" >*</text>
<text x="436.2" y="464.35" font-size="6.6" text-anchor="middle" font-weight="normal" fill="#262626" >*</text>
<line x1="450.8" y1="460.4" x2="460.8" y2="460.4" stroke="#c8c8c8" stroke-width="1" />
<circle cx="455.6" cy="460.4" r="1.5" fill="#c2c2c2" stroke="none" stroke-width="1"/>
<text x="463.8" y="462.64" font-size="6.5" text-anchor="start" font-weight="normal" fill="#262626" >WT</text>
<line x1="450.8" y1="471.2" x2="460.8" y2="471.2" stroke="#8d8bc4" stroke-width="1" />
<rect x="454" y="469.6" width="3.2" height="3.2" fill="#8482c0" stroke="none" stroke-width="1" />
<text x="463.8" y="473.44" font-size="6.5" text-anchor="start" font-weight="normal" fill="#262626" >PROSER1 KO</text>
<text x="239.1" y="530.64" font-size="8.8" text-anchor="middle" font-weight="bold" fill="#262626" textLength="68" lengthAdjust="spacingAndGlyphs">Weeks after 2<tspan baseline-shift="3.52" font-size="6.51">o</tspan> transplant</text>
<text transform="translate(11.5,454.9) rotate(-90)" x="0" y="2.76" font-size="8" text-anchor="middle" font-weight="bold" fill="#262626" textLength="43.6" lengthAdjust="spacingAndGlyphs">% CD45.2<tspan baseline-shift="3.2" font-size="5.92">+</tspan> cells</text>
<text transform="translate(5.3,559.15) scale(0.95,1)" x="0" y="0" font-size="11.6" font-weight="bold" fill="#111" stroke="#111" stroke-width="0.5">F</text>
<line x1="37.1" y1="558.5" x2="37.1" y2="655.2" stroke="#1a1a1a" stroke-width="1.2" />
<line x1="34.3" y1="654.6" x2="130" y2="654.6" stroke="#1a1a1a" stroke-width="1.2" />
<line x1="34.2" y1="654.6" x2="37.1" y2="654.6" stroke="#1a1a1a" stroke-width="0.9" />
<text x="30.9" y="656.81" font-size="6.4" text-anchor="end" font-weight="normal" fill="#262626" >0</text>
<line x1="34.2" y1="635.98" x2="37.1" y2="635.98" stroke="#1a1a1a" stroke-width="0.9" />
<text x="30.9" y="638.19" font-size="6.4" text-anchor="end" font-weight="normal" fill="#262626" >20</text>
<line x1="34.2" y1="617.36" x2="37.1" y2="617.36" stroke="#1a1a1a" stroke-width="0.9" />
<text x="30.9" y="619.57" font-size="6.4" text-anchor="end" font-weight="normal" fill="#262626" >40</text>
<line x1="34.2" y1="598.74" x2="37.1" y2="598.74" stroke="#1a1a1a" stroke-width="0.9" />
<text x="30.9" y="600.95" font-size="6.4" text-anchor="end" font-weight="normal" fill="#262626" >60</text>
<line x1="34.2" y1="580.12" x2="37.1" y2="580.12" stroke="#1a1a1a" stroke-width="0.9" />
<text x="30.9" y="582.33" font-size="6.4" text-anchor="end" font-weight="normal" fill="#262626" >80</text>
<line x1="34.2" y1="561.5" x2="37.1" y2="561.5" stroke="#1a1a1a" stroke-width="0.9" />
<text x="30.9" y="563.71" font-size="6.4" text-anchor="end" font-weight="normal" fill="#262626" >100</text>
<line x1="35.4" y1="645.29" x2="37.1" y2="645.29" stroke="#1a1a1a" stroke-width="0.9" />
<line x1="35.4" y1="626.67" x2="37.1" y2="626.67" stroke="#1a1a1a" stroke-width="0.9" />
<line x1="35.4" y1="608.05" x2="37.1" y2="608.05" stroke="#1a1a1a" stroke-width="0.9" />
<line x1="35.4" y1="589.43" x2="37.1" y2="589.43" stroke="#1a1a1a" stroke-width="0.9" />
<line x1="35.4" y1="570.81" x2="37.1" y2="570.81" stroke="#1a1a1a" stroke-width="0.9" />
<rect x="41.1" y="594.09" width="6.2" height="60.52" fill="#dedede" stroke="none" stroke-width="1" />
<rect x="48.9" y="601.53" width="6.2" height="53.07" fill="#8a80c1" stroke="none" stroke-width="1" />
<line x1="44.2" y1="590.83" x2="44.2" y2="597.34" stroke="#222" stroke-width="0.9" />
<line x1="42.7" y1="590.83" x2="45.7" y2="590.83" stroke="#222" stroke-width="0.9" />
<line x1="42.7" y1="597.34" x2="45.7" y2="597.34" stroke="#222" stroke-width="0.9" />
<line x1="52" y1="596.88" x2="52" y2="606.19" stroke="#222" stroke-width="0.9" />
<line x1="50.5" y1="596.88" x2="53.5" y2="596.88" stroke="#222" stroke-width="0.9" />
<line x1="50.5" y1="606.19" x2="53.5" y2="606.19" stroke="#222" stroke-width="0.9" />
<line x1="48.1" y1="654.6" x2="48.1" y2="656.4" stroke="#1a1a1a" stroke-width="0.9" />
<polyline points="44.2,585 44.2,571.5 52,571.5 52,592.38" fill="none" stroke="#333" stroke-width="0.9"/>
<text x="48.1" y="568.97" font-size="6" text-anchor="middle" font-weight="normal" fill="#262626" >ns</text>
<text transform="translate(50.9,663.6) rotate(-45)" x="0" y="0" font-size="6.5" text-anchor="end" fill="#262626">B cells</text>
<rect x="65.1" y="598.74" width="6.2" height="55.86" fill="#dedede" stroke="none" stroke-width="1" />
<rect x="72.8" y="603.39" width="6.2" height="51.21" fill="#8a80c1" stroke="none" stroke-width="1" />
<line x1="68.2" y1="595.95" x2="68.2" y2="601.53" stroke="#222" stroke-width="0.9" />
<line x1="66.7" y1="595.95" x2="69.7" y2="595.95" stroke="#222" stroke-width="0.9" />
<line x1="66.7" y1="601.53" x2="69.7" y2="601.53" stroke="#222" stroke-width="0.9" />
<line x1="75.9" y1="599.67" x2="75.9" y2="607.12" stroke="#222" stroke-width="0.9" />
<line x1="74.4" y1="599.67" x2="77.4" y2="599.67" stroke="#222" stroke-width="0.9" />
<line x1="74.4" y1="607.12" x2="77.4" y2="607.12" stroke="#222" stroke-width="0.9" />
<line x1="72.05" y1="654.6" x2="72.05" y2="656.4" stroke="#1a1a1a" stroke-width="0.9" />
<polyline points="68.2,585 68.2,571.5 75.9,571.5 75.9,595.17" fill="none" stroke="#333" stroke-width="0.9"/>
<text x="72.05" y="568.97" font-size="6" text-anchor="middle" font-weight="normal" fill="#262626" >ns</text>
<text transform="translate(74.85,663.6) rotate(-45)" x="0" y="0" font-size="6.5" text-anchor="end" fill="#262626">T cells</text>
<rect x="89.2" y="588.5" width="6.2" height="66.1" fill="#dedede" stroke="none" stroke-width="1" />
<rect x="97" y="613.64" width="6.2" height="40.96" fill="#8a80c1" stroke="none" stroke-width="1" />
<line x1="92.3" y1="582.45" x2="92.3" y2="594.55" stroke="#222" stroke-width="0.9" />
<line x1="90.8" y1="582.45" x2="93.8" y2="582.45" stroke="#222" stroke-width="0.9" />
<line x1="90.8" y1="594.55" x2="93.8" y2="594.55" stroke="#222" stroke-width="0.9" />
<line x1="100.1" y1="606.65" x2="100.1" y2="620.62" stroke="#222" stroke-width="0.9" />
<line x1="98.6" y1="606.65" x2="101.6" y2="606.65" stroke="#222" stroke-width="0.9" />
<line x1="98.6" y1="620.62" x2="101.6" y2="620.62" stroke="#222" stroke-width="0.9" />
<line x1="96.2" y1="654.6" x2="96.2" y2="656.4" stroke="#1a1a1a" stroke-width="0.9" />
<polyline points="92.3,577.95 92.3,571.5 100.1,571.5 100.1,602.15" fill="none" stroke="#333" stroke-width="0.9"/>
<text x="96.2" y="571.14" font-size="6.5" text-anchor="middle" font-weight="normal" fill="#262626" >*</text>
<text transform="translate(99,663.6) rotate(-45)" x="0" y="0" font-size="6.5" text-anchor="end" fill="#262626">Mac1<tspan baseline-shift="2.4" font-size="4.44">+</tspan>Gr1<tspan baseline-shift="2.4" font-size="4.44">+</tspan></text>
<rect x="112.7" y="592.22" width="6.2" height="62.38" fill="#dedede" stroke="none" stroke-width="1" />
<rect x="120.4" y="613.64" width="6.2" height="40.96" fill="#8a80c1" stroke="none" stroke-width="1" />
<line x1="115.8" y1="588.5" x2="115.8" y2="595.95" stroke="#222" stroke-width="0.9" />
<line x1="114.3" y1="588.5" x2="117.3" y2="588.5" stroke="#222" stroke-width="0.9" />
<line x1="114.3" y1="595.95" x2="117.3" y2="595.95" stroke="#222" stroke-width="0.9" />
<line x1="123.5" y1="608.52" x2="123.5" y2="618.76" stroke="#222" stroke-width="0.9" />
<line x1="122" y1="608.52" x2="125" y2="608.52" stroke="#222" stroke-width="0.9" />
<line x1="122" y1="618.76" x2="125" y2="618.76" stroke="#222" stroke-width="0.9" />
<line x1="119.65" y1="654.6" x2="119.65" y2="656.4" stroke="#1a1a1a" stroke-width="0.9" />
<polyline points="115.8,584 115.8,571.5 123.5,571.5 123.5,604.02" fill="none" stroke="#333" stroke-width="0.9"/>
<text x="119.65" y="571.14" font-size="6.5" text-anchor="middle" font-weight="normal" fill="#262626" >*</text>
<text transform="translate(122.45,663.6) rotate(-45)" x="0" y="0" font-size="6.5" text-anchor="end" fill="#262626">Mac1<tspan baseline-shift="2.4" font-size="4.44">+</tspan></text>
<text x="84.4" y="553.27" font-size="6.3" text-anchor="middle" font-weight="normal" fill="#262626" >1<tspan baseline-shift="2.32" font-size="4.29">°</tspan> spleen cells</text>
<text transform="translate(11.2,606.3) rotate(-90)" x="0" y="2.86" font-size="8.3" text-anchor="middle" font-weight="bold" fill="#262626" textLength="43.2" lengthAdjust="spacingAndGlyphs">% CD45.2<tspan baseline-shift="3.32" font-size="6.14">+</tspan> cells</text>
<text transform="translate(134.2,558.85) scale(0.95,1)" x="0" y="0" font-size="11.6" font-weight="bold" fill="#111" stroke="#111" stroke-width="0.5">G</text>
<line x1="164" y1="558.5" x2="164" y2="655.2" stroke="#1a1a1a" stroke-width="1.2" />
<line x1="161.2" y1="654.6" x2="225" y2="654.6" stroke="#1a1a1a" stroke-width="1.2" />
<line x1="161.1" y1="654.6" x2="164" y2="654.6" stroke="#1a1a1a" stroke-width="0.9" />
<text x="157.8" y="656.81" font-size="6.4" text-anchor="end" font-weight="normal" fill="#262626" >0</text>
<line x1="161.1" y1="635.98" x2="164" y2="635.98" stroke="#1a1a1a" stroke-width="0.9" />
<text x="157.8" y="638.19" font-size="6.4" text-anchor="end" font-weight="normal" fill="#262626" >20</text>
<line x1="161.1" y1="617.36" x2="164" y2="617.36" stroke="#1a1a1a" stroke-width="0.9" />
<text x="157.8" y="619.57" font-size="6.4" text-anchor="end" font-weight="normal" fill="#262626" >40</text>
<line x1="161.1" y1="598.74" x2="164" y2="598.74" stroke="#1a1a1a" stroke-width="0.9" />
<text x="157.8" y="600.95" font-size="6.4" text-anchor="end" font-weight="normal" fill="#262626" >60</text>
<line x1="161.1" y1="580.12" x2="164" y2="580.12" stroke="#1a1a1a" stroke-width="0.9" />
<text x="157.8" y="582.33" font-size="6.4" text-anchor="end" font-weight="normal" fill="#262626" >80</text>
<line x1="161.1" y1="561.5" x2="164" y2="561.5" stroke="#1a1a1a" stroke-width="0.9" />
<text x="157.8" y="563.71" font-size="6.4" text-anchor="end" font-weight="normal" fill="#262626" >100</text>
<line x1="162.3" y1="645.29" x2="164" y2="645.29" stroke="#1a1a1a" stroke-width="0.9" />
<line x1="162.3" y1="626.67" x2="164" y2="626.67" stroke="#1a1a1a" stroke-width="0.9" />
<line x1="162.3" y1="608.05" x2="164" y2="608.05" stroke="#1a1a1a" stroke-width="0.9" />
<line x1="162.3" y1="589.43" x2="164" y2="589.43" stroke="#1a1a1a" stroke-width="0.9" />
<line x1="162.3" y1="570.81" x2="164" y2="570.81" stroke="#1a1a1a" stroke-width="0.9" />
<rect x="167.7" y="599.67" width="6.2" height="54.93" fill="#dedede" stroke="none" stroke-width="1" />
<rect x="174.3" y="609.91" width="6.2" height="44.69" fill="#8a80c1" stroke="none" stroke-width="1" />
<line x1="170.8" y1="595.02" x2="170.8" y2="604.33" stroke="#222" stroke-width="0.9" />
<line x1="169.3" y1="595.02" x2="172.3" y2="595.02" stroke="#222" stroke-width="0.9" />
<line x1="169.3" y1="604.33" x2="172.3" y2="604.33" stroke="#222" stroke-width="0.9" />
<line x1="177.4" y1="603.39" x2="177.4" y2="616.43" stroke="#222" stroke-width="0.9" />
<line x1="175.9" y1="603.39" x2="178.9" y2="603.39" stroke="#222" stroke-width="0.9" />
<line x1="175.9" y1="616.43" x2="178.9" y2="616.43" stroke="#222" stroke-width="0.9" />
<line x1="174.1" y1="654.6" x2="174.1" y2="656.4" stroke="#1a1a1a" stroke-width="0.9" />
<polyline points="170.8,585 170.8,570.7 177.4,570.7 177.4,598.89" fill="none" stroke="#333" stroke-width="0.9"/>
<text x="174.1" y="568.27" font-size="6.3" text-anchor="middle" font-weight="normal" fill="#262626" >0.23</text>
<text transform="translate(176.9,663.6) rotate(-45)" x="0" y="0" font-size="6.5" text-anchor="end" fill="#262626">HSC</text>
<rect x="188.5" y="589.43" width="6.2" height="65.17" fill="#dedede" stroke="none" stroke-width="1" />
<rect x="195.5" y="610.84" width="6.2" height="43.76" fill="#8a80c1" stroke="none" stroke-width="1" />
<line x1="191.6" y1="585.24" x2="191.6" y2="593.62" stroke="#222" stroke-width="0.9" />
<line x1="190.1" y1="585.24" x2="193.1" y2="585.24" stroke="#222" stroke-width="0.9" />
<line x1="190.1" y1="593.62" x2="193.1" y2="593.62" stroke="#222" stroke-width="0.9" />
<line x1="198.6" y1="604.33" x2="198.6" y2="617.36" stroke="#222" stroke-width="0.9" />
<line x1="197.1" y1="604.33" x2="200.1" y2="604.33" stroke="#222" stroke-width="0.9" />
<line x1="197.1" y1="617.36" x2="200.1" y2="617.36" stroke="#222" stroke-width="0.9" />
<line x1="195.1" y1="654.6" x2="195.1" y2="656.4" stroke="#1a1a1a" stroke-width="0.9" />
<polyline points="191.6,580.74 191.6,570.7 198.6,570.7 198.6,599.83" fill="none" stroke="#333" stroke-width="0.9"/>
<text x="195.1" y="570.34" font-size="6.5" text-anchor="middle" font-weight="normal" fill="#262626" >*</text>
<text transform="translate(197.9,663.6) rotate(-45)" x="0" y="0" font-size="6.5" text-anchor="end" fill="#262626">LSK</text>
<rect x="209.3" y="584.77" width="6.2" height="69.83" fill="#dedede" stroke="none" stroke-width="1" />
<rect x="216.5" y="603.39" width="6.2" height="51.21" fill="#8a80c1" stroke="none" stroke-width="1" />
<line x1="212.4" y1="581.52" x2="212.4" y2="588.03" stroke="#222" stroke-width="0.9" />
<line x1="210.9" y1="581.52" x2="213.9" y2="581.52" stroke="#222" stroke-width="0.9" />
<line x1="210.9" y1="588.03" x2="213.9" y2="588.03" stroke="#222" stroke-width="0.9" />
<line x1="219.6" y1="598.27" x2="219.6" y2="608.52" stroke="#222" stroke-width="0.9" />
<line x1="218.1" y1="598.27" x2="221.1" y2="598.27" stroke="#222" stroke-width="0.9" />
<line x1="218.1" y1="608.52" x2="221.1" y2="608.52" stroke="#222" stroke-width="0.9" />
<line x1="216" y1="654.6" x2="216" y2="656.4" stroke="#1a1a1a" stroke-width="0.9" />
<polyline points="212.4,577.02 212.4,570.7 219.6,570.7 219.6,593.77" fill="none" stroke="#333" stroke-width="0.9"/>
<text x="216" y="570.34" font-size="6.5" text-anchor="middle" font-weight="normal" fill="#262626" >*</text>
<text transform="translate(218.8,663.6) rotate(-45)" x="0" y="0" font-size="6.5" text-anchor="end" fill="#262626">Lin<tspan baseline-shift="2.4" font-size="4.44">−</tspan></text>
<text x="193.8" y="553.27" font-size="6.3" text-anchor="middle" font-weight="normal" fill="#262626" >1<tspan baseline-shift="2.32" font-size="4.29">°</tspan> BM cells</text>
<text transform="translate(138.7,606.3) rotate(-90)" x="0" y="2.86" font-size="8.3" text-anchor="middle" font-weight="bold" fill="#262626" textLength="43.2" lengthAdjust="spacingAndGlyphs">% CD45.2<tspan baseline-shift="3.32" font-size="6.14">+</tspan> cells</text>
<text transform="translate(232.7,558.85) scale(0.95,1)" x="0" y="0" font-size="11.6" font-weight="bold" fill="#111" stroke="#111" stroke-width="0.5">H</text>
<line x1="263.2" y1="558.5" x2="263.2" y2="655.2" stroke="#1a1a1a" stroke-width="1.2" />
<line x1="260.4" y1="654.6" x2="356.5" y2="654.6" stroke="#1a1a1a" stroke-width="1.2" />
<line x1="260.3" y1="654.6" x2="263.2" y2="654.6" stroke="#1a1a1a" stroke-width="0.9" />
<text x="257" y="656.81" font-size="6.4" text-anchor="end" font-weight="normal" fill="#262626" >0</text>
<line x1="260.3" y1="635.98" x2="263.2" y2="635.98" stroke="#1a1a1a" stroke-width="0.9" />
<text x="257" y="638.19" font-size="6.4" text-anchor="end" font-weight="normal" fill="#262626" >20</text>
<line x1="260.3" y1="617.36" x2="263.2" y2="617.36" stroke="#1a1a1a" stroke-width="0.9" />
<text x="257" y="619.57" font-size="6.4" text-anchor="end" font-weight="normal" fill="#262626" >40</text>
<line x1="260.3" y1="598.74" x2="263.2" y2="598.74" stroke="#1a1a1a" stroke-width="0.9" />
<text x="257" y="600.95" font-size="6.4" text-anchor="end" font-weight="normal" fill="#262626" >60</text>
<line x1="260.3" y1="580.12" x2="263.2" y2="580.12" stroke="#1a1a1a" stroke-width="0.9" />
<text x="257" y="582.33" font-size="6.4" text-anchor="end" font-weight="normal" fill="#262626" >80</text>
<line x1="260.3" y1="561.5" x2="263.2" y2="561.5" stroke="#1a1a1a" stroke-width="0.9" />
<text x="257" y="563.71" font-size="6.4" text-anchor="end" font-weight="normal" fill="#262626" >100</text>
<line x1="261.5" y1="645.29" x2="263.2" y2="645.29" stroke="#1a1a1a" stroke-width="0.9" />
<line x1="261.5" y1="626.67" x2="263.2" y2="626.67" stroke="#1a1a1a" stroke-width="0.9" />
<line x1="261.5" y1="608.05" x2="263.2" y2="608.05" stroke="#1a1a1a" stroke-width="0.9" />
<line x1="261.5" y1="589.43" x2="263.2" y2="589.43" stroke="#1a1a1a" stroke-width="0.9" />
<line x1="261.5" y1="570.81" x2="263.2" y2="570.81" stroke="#1a1a1a" stroke-width="0.9" />
<rect x="266.8" y="584.77" width="6.2" height="69.83" fill="#dedede" stroke="none" stroke-width="1" />
<rect x="275.1" y="609.91" width="6.2" height="44.69" fill="#8a80c1" stroke="none" stroke-width="1" />
<line x1="269.9" y1="581.05" x2="269.9" y2="588.5" stroke="#222" stroke-width="0.9" />
<line x1="268.4" y1="581.05" x2="271.4" y2="581.05" stroke="#222" stroke-width="0.9" />
<line x1="268.4" y1="588.5" x2="271.4" y2="588.5" stroke="#222" stroke-width="0.9" />
<line x1="278.2" y1="603.86" x2="278.2" y2="615.96" stroke="#222" stroke-width="0.9" />
<line x1="276.7" y1="603.86" x2="279.7" y2="603.86" stroke="#222" stroke-width="0.9" />
<line x1="276.7" y1="615.96" x2="279.7" y2="615.96" stroke="#222" stroke-width="0.9" />
<line x1="274.05" y1="654.6" x2="274.05" y2="656.4" stroke="#1a1a1a" stroke-width="0.9" />
<polyline points="269.9,576.55 269.9,570.3 278.2,570.3 278.2,599.36" fill="none" stroke="#333" stroke-width="0.9"/>
<text x="274.05" y="569.94" font-size="6.5" text-anchor="middle" font-weight="normal" fill="#262626" >**</text>
<text transform="translate(276.85,663.6) rotate(-45)" x="0" y="0" font-size="6.5" text-anchor="end" fill="#262626">B cells</text>
<rect x="290.2" y="596.88" width="6.2" height="57.72" fill="#dedede" stroke="none" stroke-width="1" />
<rect x="298.6" y="618.29" width="6.2" height="36.31" fill="#8a80c1" stroke="none" stroke-width="1" />
<line x1="293.3" y1="594.09" x2="293.3" y2="599.67" stroke="#222" stroke-width="0.9" />
<line x1="291.8" y1="594.09" x2="294.8" y2="594.09" stroke="#222" stroke-width="0.9" />
<line x1="291.8" y1="599.67" x2="294.8" y2="599.67" stroke="#222" stroke-width="0.9" />
<line x1="301.7" y1="614.57" x2="301.7" y2="622.01" stroke="#222" stroke-width="0.9" />
<line x1="300.2" y1="614.57" x2="303.2" y2="614.57" stroke="#222" stroke-width="0.9" />
<line x1="300.2" y1="622.01" x2="303.2" y2="622.01" stroke="#222" stroke-width="0.9" />
<line x1="297.5" y1="654.6" x2="297.5" y2="656.4" stroke="#1a1a1a" stroke-width="0.9" />
<polyline points="293.3,585 293.3,570.3 301.7,570.3 301.7,610.07" fill="none" stroke="#333" stroke-width="0.9"/>
<text x="297.5" y="569.94" font-size="6.5" text-anchor="middle" font-weight="normal" fill="#262626" >***</text>
<text transform="translate(300.3,663.6) rotate(-45)" x="0" y="0" font-size="6.5" text-anchor="end" fill="#262626">T cells</text>
<rect x="313.5" y="590.36" width="6.2" height="64.24" fill="#dedede" stroke="none" stroke-width="1" />
<rect x="322.4" y="603.39" width="6.2" height="51.21" fill="#8a80c1" stroke="none" stroke-width="1" />
<line x1="316.6" y1="587.57" x2="316.6" y2="593.15" stroke="#222" stroke-width="0.9" />
<line x1="315.1" y1="587.57" x2="318.1" y2="587.57" stroke="#222" stroke-width="0.9" />
<line x1="315.1" y1="593.15" x2="318.1" y2="593.15" stroke="#222" stroke-width="0.9" />
<line x1="325.5" y1="599.21" x2="325.5" y2="607.58" stroke="#222" stroke-width="0.9" />
<line x1="324" y1="599.21" x2="327" y2="599.21" stroke="#222" stroke-width="0.9" />
<line x1="324" y1="607.58" x2="327" y2="607.58" stroke="#222" stroke-width="0.9" />
<line x1="321.05" y1="654.6" x2="321.05" y2="656.4" stroke="#1a1a1a" stroke-width="0.9" />
<polyline points="316.6,583.07 316.6,570.3 325.5,570.3 325.5,594.71" fill="none" stroke="#333" stroke-width="0.9"/>
<text x="321.05" y="569.94" font-size="6.5" text-anchor="middle" font-weight="normal" fill="#262626" >*</text>
<text transform="translate(323.85,663.6) rotate(-45)" x="0" y="0" font-size="6.5" text-anchor="end" fill="#262626">Mac1<tspan baseline-shift="2.4" font-size="4.44">+</tspan>Gr1<tspan baseline-shift="2.4" font-size="4.44">+</tspan></text>
<rect x="337.2" y="592.22" width="6.2" height="62.38" fill="#dedede" stroke="none" stroke-width="1" />
<rect x="345.7" y="609.91" width="6.2" height="44.69" fill="#8a80c1" stroke="none" stroke-width="1" />
<line x1="340.3" y1="589.43" x2="340.3" y2="595.02" stroke="#222" stroke-width="0.9" />
<line x1="338.8" y1="589.43" x2="341.8" y2="589.43" stroke="#222" stroke-width="0.9" />
<line x1="338.8" y1="595.02" x2="341.8" y2="595.02" stroke="#222" stroke-width="0.9" />
<line x1="348.8" y1="605.26" x2="348.8" y2="614.57" stroke="#222" stroke-width="0.9" />
<line x1="347.3" y1="605.26" x2="350.3" y2="605.26" stroke="#222" stroke-width="0.9" />
<line x1="347.3" y1="614.57" x2="350.3" y2="614.57" stroke="#222" stroke-width="0.9" />
<line x1="344.55" y1="654.6" x2="344.55" y2="656.4" stroke="#1a1a1a" stroke-width="0.9" />
<polyline points="340.3,584.93 340.3,570.3 348.8,570.3 348.8,600.76" fill="none" stroke="#333" stroke-width="0.9"/>
<text x="344.55" y="569.94" font-size="6.5" text-anchor="middle" font-weight="normal" fill="#262626" >**</text>
<text transform="translate(347.35,663.6) rotate(-45)" x="0" y="0" font-size="6.5" text-anchor="end" fill="#262626">Mac1<tspan baseline-shift="2.4" font-size="4.44">+</tspan></text>
<text x="309.2" y="553.27" font-size="6.3" text-anchor="middle" font-weight="normal" fill="#262626" >2<tspan baseline-shift="2.32" font-size="4.29">°</tspan> spleen cells</text>
<text transform="translate(237.2,606.3) rotate(-90)" x="0" y="2.86" font-size="8.3" text-anchor="middle" font-weight="bold" fill="#262626" textLength="43.2" lengthAdjust="spacingAndGlyphs">% CD45.2<tspan baseline-shift="3.32" font-size="6.14">+</tspan> cells</text>
<text transform="translate(361.4,559.05) scale(0.95,1)" x="0" y="0" font-size="11.6" font-weight="bold" fill="#111" stroke="#111" stroke-width="0.5">I</text>
<line x1="389.9" y1="558.5" x2="389.9" y2="655.2" stroke="#1a1a1a" stroke-width="1.2" />
<line x1="387.1" y1="654.6" x2="452.8" y2="654.6" stroke="#1a1a1a" stroke-width="1.2" />
<line x1="387" y1="654.6" x2="389.9" y2="654.6" stroke="#1a1a1a" stroke-width="0.9" />
<text x="383.7" y="656.81" font-size="6.4" text-anchor="end" font-weight="normal" fill="#262626" >0</text>
<line x1="387" y1="635.98" x2="389.9" y2="635.98" stroke="#1a1a1a" stroke-width="0.9" />
<text x="383.7" y="638.19" font-size="6.4" text-anchor="end" font-weight="normal" fill="#262626" >20</text>
<line x1="387" y1="617.36" x2="389.9" y2="617.36" stroke="#1a1a1a" stroke-width="0.9" />
<text x="383.7" y="619.57" font-size="6.4" text-anchor="end" font-weight="normal" fill="#262626" >40</text>
<line x1="387" y1="598.74" x2="389.9" y2="598.74" stroke="#1a1a1a" stroke-width="0.9" />
<text x="383.7" y="600.95" font-size="6.4" text-anchor="end" font-weight="normal" fill="#262626" >60</text>
<line x1="387" y1="580.12" x2="389.9" y2="580.12" stroke="#1a1a1a" stroke-width="0.9" />
<text x="383.7" y="582.33" font-size="6.4" text-anchor="end" font-weight="normal" fill="#262626" >80</text>
<line x1="387" y1="561.5" x2="389.9" y2="561.5" stroke="#1a1a1a" stroke-width="0.9" />
<text x="383.7" y="563.71" font-size="6.4" text-anchor="end" font-weight="normal" fill="#262626" >100</text>
<line x1="388.2" y1="645.29" x2="389.9" y2="645.29" stroke="#1a1a1a" stroke-width="0.9" />
<line x1="388.2" y1="626.67" x2="389.9" y2="626.67" stroke="#1a1a1a" stroke-width="0.9" />
<line x1="388.2" y1="608.05" x2="389.9" y2="608.05" stroke="#1a1a1a" stroke-width="0.9" />
<line x1="388.2" y1="589.43" x2="389.9" y2="589.43" stroke="#1a1a1a" stroke-width="0.9" />
<line x1="388.2" y1="570.81" x2="389.9" y2="570.81" stroke="#1a1a1a" stroke-width="0.9" />
<rect x="393.5" y="594.09" width="6.2" height="60.52" fill="#dedede" stroke="none" stroke-width="1" />
<rect x="401.6" y="627.14" width="6.2" height="27.46" fill="#8a80c1" stroke="none" stroke-width="1" />
<line x1="396.6" y1="590.36" x2="396.6" y2="597.81" stroke="#222" stroke-width="0.9" />
<line x1="395.1" y1="590.36" x2="398.1" y2="590.36" stroke="#222" stroke-width="0.9" />
<line x1="395.1" y1="597.81" x2="398.1" y2="597.81" stroke="#222" stroke-width="0.9" />
<line x1="404.7" y1="623.41" x2="404.7" y2="630.86" stroke="#222" stroke-width="0.9" />
<line x1="403.2" y1="623.41" x2="406.2" y2="623.41" stroke="#222" stroke-width="0.9" />
<line x1="403.2" y1="630.86" x2="406.2" y2="630.86" stroke="#222" stroke-width="0.9" />
<line x1="400.65" y1="654.6" x2="400.65" y2="656.4" stroke="#1a1a1a" stroke-width="0.9" />
<polyline points="396.6,585 396.6,573.6 404.7,573.6 404.7,618.91" fill="none" stroke="#333" stroke-width="0.9"/>
<text x="400.65" y="573.24" font-size="6.5" text-anchor="middle" font-weight="normal" fill="#262626" >****</text>
<text transform="translate(403.45,663.6) rotate(-45)" x="0" y="0" font-size="6.5" text-anchor="end" fill="#262626">HSC</text>
<rect x="414.9" y="591.29" width="6.2" height="63.31" fill="#dedede" stroke="none" stroke-width="1" />
<rect x="422.6" y="610.84" width="6.2" height="43.76" fill="#8a80c1" stroke="none" stroke-width="1" />
<line x1="418" y1="587.57" x2="418" y2="595.02" stroke="#222" stroke-width="0.9" />
<line x1="416.5" y1="587.57" x2="419.5" y2="587.57" stroke="#222" stroke-width="0.9" />
<line x1="416.5" y1="595.02" x2="419.5" y2="595.02" stroke="#222" stroke-width="0.9" />
<line x1="425.7" y1="604.79" x2="425.7" y2="616.89" stroke="#222" stroke-width="0.9" />
<line x1="424.2" y1="604.79" x2="427.2" y2="604.79" stroke="#222" stroke-width="0.9" />
<line x1="424.2" y1="616.89" x2="427.2" y2="616.89" stroke="#222" stroke-width="0.9" />
<line x1="421.85" y1="654.6" x2="421.85" y2="656.4" stroke="#1a1a1a" stroke-width="0.9" />
<polyline points="418,583.07 418,573.6 425.7,573.6 425.7,600.29" fill="none" stroke="#333" stroke-width="0.9"/>
<text x="421.85" y="573.24" font-size="6.5" text-anchor="middle" font-weight="normal" fill="#262626" >*</text>
<text transform="translate(424.65,663.6) rotate(-45)" x="0" y="0" font-size="6.5" text-anchor="end" fill="#262626">LSK</text>
<rect x="436.1" y="586.64" width="6.2" height="67.96" fill="#dedede" stroke="none" stroke-width="1" />
<rect x="443.5" y="599.67" width="6.2" height="54.93" fill="#8a80c1" stroke="none" stroke-width="1" />
<line x1="439.2" y1="583.84" x2="439.2" y2="589.43" stroke="#222" stroke-width="0.9" />
<line x1="437.7" y1="583.84" x2="440.7" y2="583.84" stroke="#222" stroke-width="0.9" />
<line x1="437.7" y1="589.43" x2="440.7" y2="589.43" stroke="#222" stroke-width="0.9" />
<line x1="446.6" y1="595.48" x2="446.6" y2="603.86" stroke="#222" stroke-width="0.9" />
<line x1="445.1" y1="595.48" x2="448.1" y2="595.48" stroke="#222" stroke-width="0.9" />
<line x1="445.1" y1="603.86" x2="448.1" y2="603.86" stroke="#222" stroke-width="0.9" />
<line x1="442.9" y1="654.6" x2="442.9" y2="656.4" stroke="#1a1a1a" stroke-width="0.9" />
<polyline points="439.2,579.34 439.2,573.6 446.6,573.6 446.6,590.98" fill="none" stroke="#333" stroke-width="0.9"/>
<text x="442.9" y="573.24" font-size="6.5" text-anchor="middle" font-weight="normal" fill="#262626" >*</text>
<text transform="translate(445.7,663.6) rotate(-45)" x="0" y="0" font-size="6.5" text-anchor="end" fill="#262626">Lin<tspan baseline-shift="2.4" font-size="4.44">−</tspan></text>
<text x="423.3" y="553.27" font-size="6.3" text-anchor="middle" font-weight="normal" fill="#262626" >2<tspan baseline-shift="2.32" font-size="4.29">°</tspan> BM cells</text>
<text transform="translate(365.8,606.3) rotate(-90)" x="0" y="2.86" font-size="8.3" text-anchor="middle" font-weight="bold" fill="#262626" textLength="43.2" lengthAdjust="spacingAndGlyphs">% CD45.2<tspan baseline-shift="3.32" font-size="6.14">+</tspan> cells</text>
<rect x="461.3" y="594.7" width="7.4" height="5.4" fill="#dedede" stroke="none" stroke-width="1" />
<text x="470.9" y="599.74" font-size="6.5" text-anchor="start" font-weight="normal" fill="#262626" >WT</text>
<rect x="461.3" y="605.6" width="7.4" height="5.6" fill="#8a80c1" stroke="none" stroke-width="1" />
<text x="470.9" y="610.74" font-size="6.5" text-anchor="start" font-weight="normal" fill="#262626" >PROSER1 KO</text>
<rect x="0.5" y="0.5" width="519" height="697" fill="none" stroke="#4d4d4d" stroke-width="1"/>
</svg></body></html>
